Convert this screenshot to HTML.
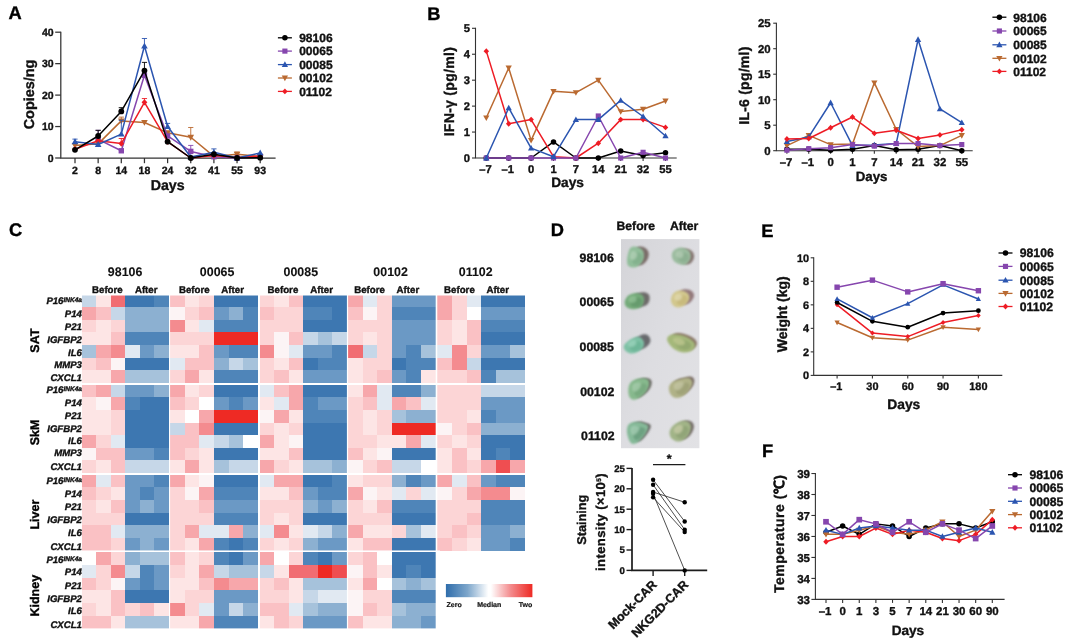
<!DOCTYPE html>
<html><head><meta charset="utf-8"><title>Figure</title>
<style>
html,body{margin:0;padding:0;background:#fff;}
body{width:1080px;height:643px;overflow:hidden;font-family:"Liberation Sans", sans-serif;}
svg{display:block;font-family:"Liberation Sans", sans-serif;filter:blur(0.5px);text-rendering:geometricPrecision;}
</style></head><body>
<svg width="1080" height="643" viewBox="0 0 1080 643">
<defs>
<linearGradient id="cbar" x1="0" x2="1" y1="0" y2="0">
<stop offset="0" stop-color="#2f6dab"/><stop offset="0.25" stop-color="#7da6cb"/><stop offset="0.49" stop-color="#ffffff"/><stop offset="0.52" stop-color="#ffffff"/><stop offset="0.75" stop-color="#f38a8c"/><stop offset="1" stop-color="#ee2a24"/>
</linearGradient>
<filter id="soft" x="-30%" y="-30%" width="160%" height="160%"><feGaussianBlur stdDeviation="0.85"/></filter>
<filter id="soft2" x="-30%" y="-30%" width="160%" height="160%"><feGaussianBlur stdDeviation="1.2"/></filter>
<linearGradient id="photobg" x1="0" x2="1" y1="0" y2="1">
<stop offset="0" stop-color="#d4d4d8"/><stop offset="0.5" stop-color="#dddde1"/><stop offset="1" stop-color="#e2e2e5"/>
</linearGradient>
</defs>
<rect width="1080" height="643" fill="#ffffff"/>

<text x="8.60" y="19.45" font-size="18.3" text-anchor="start" font-weight="bold" font-style="normal" fill="#000" stroke="#000" stroke-width="0.35">A</text>
<text x="427.20" y="19.85" font-size="18.3" text-anchor="start" font-weight="bold" font-style="normal" fill="#000" stroke="#000" stroke-width="0.35">B</text>
<text x="9.00" y="236.15" font-size="18.3" text-anchor="start" font-weight="bold" font-style="normal" fill="#000" stroke="#000" stroke-width="0.35">C</text>
<text x="550.70" y="236.05" font-size="18.3" text-anchor="start" font-weight="bold" font-style="normal" fill="#000" stroke="#000" stroke-width="0.35">D</text>
<text x="761.20" y="236.85" font-size="18.3" text-anchor="start" font-weight="bold" font-style="normal" fill="#000" stroke="#000" stroke-width="0.35">E</text>
<text x="762.00" y="456.75" font-size="18.3" text-anchor="start" font-weight="bold" font-style="normal" fill="#000" stroke="#000" stroke-width="0.35">F</text>
<path d="M60.80 31.70 V158.00 H275.60" fill="none" stroke="#333333" stroke-width="1.25"/>
<line x1="55.20" y1="158.00" x2="60.80" y2="158.00" stroke="#333333" stroke-width="1.25"/>
<text x="53.70" y="161.76" font-size="10.5" text-anchor="end" font-weight="bold" font-style="normal" fill="#111" stroke="#111" stroke-width="0.35">0</text>
<line x1="55.20" y1="126.55" x2="60.80" y2="126.55" stroke="#333333" stroke-width="1.25"/>
<text x="53.70" y="130.31" font-size="10.5" text-anchor="end" font-weight="bold" font-style="normal" fill="#111" stroke="#111" stroke-width="0.35">10</text>
<line x1="55.20" y1="95.10" x2="60.80" y2="95.10" stroke="#333333" stroke-width="1.25"/>
<text x="53.70" y="98.86" font-size="10.5" text-anchor="end" font-weight="bold" font-style="normal" fill="#111" stroke="#111" stroke-width="0.35">20</text>
<line x1="55.20" y1="63.65" x2="60.80" y2="63.65" stroke="#333333" stroke-width="1.25"/>
<text x="53.70" y="67.41" font-size="10.5" text-anchor="end" font-weight="bold" font-style="normal" fill="#111" stroke="#111" stroke-width="0.35">30</text>
<line x1="55.20" y1="32.20" x2="60.80" y2="32.20" stroke="#333333" stroke-width="1.25"/>
<text x="53.70" y="35.96" font-size="10.5" text-anchor="end" font-weight="bold" font-style="normal" fill="#111" stroke="#111" stroke-width="0.35">40</text>
<line x1="75.00" y1="158.00" x2="75.00" y2="163.20" stroke="#333333" stroke-width="1.25"/>
<text x="75.00" y="174.36" font-size="10.5" text-anchor="middle" font-weight="bold" font-style="normal" fill="#111" stroke="#111" stroke-width="0.35">2</text>
<line x1="98.15" y1="158.00" x2="98.15" y2="163.20" stroke="#333333" stroke-width="1.25"/>
<text x="98.15" y="174.36" font-size="10.5" text-anchor="middle" font-weight="bold" font-style="normal" fill="#111" stroke="#111" stroke-width="0.35">8</text>
<line x1="121.30" y1="158.00" x2="121.30" y2="163.20" stroke="#333333" stroke-width="1.25"/>
<text x="121.30" y="174.36" font-size="10.5" text-anchor="middle" font-weight="bold" font-style="normal" fill="#111" stroke="#111" stroke-width="0.35">14</text>
<line x1="144.45" y1="158.00" x2="144.45" y2="163.20" stroke="#333333" stroke-width="1.25"/>
<text x="144.45" y="174.36" font-size="10.5" text-anchor="middle" font-weight="bold" font-style="normal" fill="#111" stroke="#111" stroke-width="0.35">18</text>
<line x1="167.60" y1="158.00" x2="167.60" y2="163.20" stroke="#333333" stroke-width="1.25"/>
<text x="167.60" y="174.36" font-size="10.5" text-anchor="middle" font-weight="bold" font-style="normal" fill="#111" stroke="#111" stroke-width="0.35">24</text>
<line x1="190.75" y1="158.00" x2="190.75" y2="163.20" stroke="#333333" stroke-width="1.25"/>
<text x="190.75" y="174.36" font-size="10.5" text-anchor="middle" font-weight="bold" font-style="normal" fill="#111" stroke="#111" stroke-width="0.35">32</text>
<line x1="213.90" y1="158.00" x2="213.90" y2="163.20" stroke="#333333" stroke-width="1.25"/>
<text x="213.90" y="174.36" font-size="10.5" text-anchor="middle" font-weight="bold" font-style="normal" fill="#111" stroke="#111" stroke-width="0.35">41</text>
<line x1="237.05" y1="158.00" x2="237.05" y2="163.20" stroke="#333333" stroke-width="1.25"/>
<text x="237.05" y="174.36" font-size="10.5" text-anchor="middle" font-weight="bold" font-style="normal" fill="#111" stroke="#111" stroke-width="0.35">55</text>
<line x1="260.20" y1="158.00" x2="260.20" y2="163.20" stroke="#333333" stroke-width="1.25"/>
<text x="260.20" y="174.36" font-size="10.5" text-anchor="middle" font-weight="bold" font-style="normal" fill="#111" stroke="#111" stroke-width="0.35">93</text>
<text x="167.70" y="190.28" font-size="14.2" text-anchor="middle" font-weight="bold" font-style="normal" fill="#111" stroke="#111" stroke-width="0.35">Days</text>
<text x="29.00" y="99.66" font-size="14.4" text-anchor="middle" font-weight="bold" font-style="normal" fill="#111" stroke="#111" stroke-width="0.35" transform="rotate(-90 29.00 94.50)">Copies/ng</text>
<path d="M121.30 120.89 V117.12 M118.70 117.12 H123.90" stroke="#ba6a31" stroke-width="0.9" fill="none"/>
<path d="M190.75 137.24 V127.49 M188.15 127.49 H193.35" stroke="#ba6a31" stroke-width="0.9" fill="none"/>
<path d="M237.05 154.23 V152.02 M234.45 152.02 H239.65" stroke="#ba6a31" stroke-width="0.9" fill="none"/>
<path d="M75.00 145.42 L98.15 143.85 L121.30 120.89 L144.45 122.46 L167.60 132.84 L190.75 137.24 L213.90 156.43 L237.05 154.23 L260.20 156.43" fill="none" stroke="#ba6a31" stroke-width="1.5" stroke-linejoin="round"/>
<path d="M75.00 148.82 L78.30 142.92 L71.70 142.92Z" fill="#ba6a31"/>
<path d="M98.15 147.25 L101.45 141.35 L94.85 141.35Z" fill="#ba6a31"/>
<path d="M121.30 124.29 L124.60 118.39 L118.00 118.39Z" fill="#ba6a31"/>
<path d="M144.45 125.86 L147.75 119.96 L141.15 119.96Z" fill="#ba6a31"/>
<path d="M167.60 136.24 L170.90 130.34 L164.30 130.34Z" fill="#ba6a31"/>
<path d="M190.75 140.64 L194.05 134.74 L187.45 134.74Z" fill="#ba6a31"/>
<path d="M213.90 159.83 L217.20 153.93 L210.60 153.93Z" fill="#ba6a31"/>
<path d="M237.05 157.63 L240.35 151.73 L233.75 151.73Z" fill="#ba6a31"/>
<path d="M260.20 159.83 L263.50 153.93 L256.90 153.93Z" fill="#ba6a31"/>
<path d="M98.15 139.44 V130.32 M95.55 130.32 H100.75" stroke="#8646ae" stroke-width="0.9" fill="none"/>
<path d="M190.75 151.40 V145.42 M188.15 145.42 H193.35" stroke="#8646ae" stroke-width="0.9" fill="none"/>
<path d="M98.15 139.44 L121.30 150.77 L144.45 75.29 L167.60 135.99 L190.75 151.40 L213.90 156.74 L237.05 158.00 L260.20 156.43" fill="none" stroke="#8646ae" stroke-width="1.5" stroke-linejoin="round"/>
<rect x="95.45" y="136.74" width="5.40" height="5.40" fill="#8646ae"/>
<rect x="118.60" y="148.07" width="5.40" height="5.40" fill="#8646ae"/>
<rect x="141.75" y="72.59" width="5.40" height="5.40" fill="#8646ae"/>
<rect x="164.90" y="133.29" width="5.40" height="5.40" fill="#8646ae"/>
<rect x="188.05" y="148.70" width="5.40" height="5.40" fill="#8646ae"/>
<rect x="211.20" y="154.04" width="5.40" height="5.40" fill="#8646ae"/>
<rect x="234.35" y="155.30" width="5.40" height="5.40" fill="#8646ae"/>
<rect x="257.50" y="153.73" width="5.40" height="5.40" fill="#8646ae"/>
<path d="M121.30 143.53 V138.50 M118.70 138.50 H123.90" stroke="#ee1c25" stroke-width="0.9" fill="none"/>
<path d="M144.45 102.33 V98.56 M141.85 98.56 H147.05" stroke="#ee1c25" stroke-width="0.9" fill="none"/>
<path d="M75.00 149.19 L98.15 140.70 L121.30 143.53 L144.45 102.33 L167.60 141.65 L190.75 158.00 L213.90 155.48 L237.05 157.37 L260.20 156.11" fill="none" stroke="#ee1c25" stroke-width="1.5" stroke-linejoin="round"/>
<path d="M75.00 146.09 L77.90 149.19 L75.00 152.29 L72.10 149.19Z" fill="#ee1c25"/>
<path d="M98.15 137.60 L101.05 140.70 L98.15 143.80 L95.25 140.70Z" fill="#ee1c25"/>
<path d="M121.30 140.43 L124.20 143.53 L121.30 146.63 L118.40 143.53Z" fill="#ee1c25"/>
<path d="M144.45 99.23 L147.35 102.33 L144.45 105.43 L141.55 102.33Z" fill="#ee1c25"/>
<path d="M167.60 138.55 L170.50 141.65 L167.60 144.75 L164.70 141.65Z" fill="#ee1c25"/>
<path d="M190.75 154.90 L193.65 158.00 L190.75 161.10 L187.85 158.00Z" fill="#ee1c25"/>
<path d="M213.90 152.38 L216.80 155.48 L213.90 158.58 L211.00 155.48Z" fill="#ee1c25"/>
<path d="M237.05 154.27 L239.95 157.37 L237.05 160.47 L234.15 157.37Z" fill="#ee1c25"/>
<path d="M260.20 153.01 L263.10 156.11 L260.20 159.21 L257.30 156.11Z" fill="#ee1c25"/>
<path d="M75.00 141.65 V139.13 M72.40 139.13 H77.60" stroke="#2b55b0" stroke-width="0.9" fill="none"/>
<path d="M121.30 134.10 V120.26 M118.70 120.26 H123.90" stroke="#2b55b0" stroke-width="0.9" fill="none"/>
<path d="M144.45 46.04 V38.49 M141.85 38.49 H147.05" stroke="#2b55b0" stroke-width="0.9" fill="none"/>
<path d="M167.60 126.55 V123.41 M165.00 123.41 H170.20" stroke="#2b55b0" stroke-width="0.9" fill="none"/>
<path d="M213.90 152.34 V148.88 M211.30 148.88 H216.50" stroke="#2b55b0" stroke-width="0.9" fill="none"/>
<path d="M75.00 141.65 L98.15 144.48 L121.30 134.10 L144.45 46.04 L167.60 126.55 L190.75 157.06 L213.90 152.34 L237.05 158.00 L260.20 152.97" fill="none" stroke="#2b55b0" stroke-width="1.5" stroke-linejoin="round"/>
<path d="M75.00 138.25 L78.30 144.15 L71.70 144.15Z" fill="#2b55b0"/>
<path d="M98.15 141.08 L101.45 146.98 L94.85 146.98Z" fill="#2b55b0"/>
<path d="M121.30 130.70 L124.60 136.60 L118.00 136.60Z" fill="#2b55b0"/>
<path d="M144.45 42.64 L147.75 48.54 L141.15 48.54Z" fill="#2b55b0"/>
<path d="M167.60 123.15 L170.90 129.05 L164.30 129.05Z" fill="#2b55b0"/>
<path d="M190.75 153.66 L194.05 159.56 L187.45 159.56Z" fill="#2b55b0"/>
<path d="M213.90 148.94 L217.20 154.84 L210.60 154.84Z" fill="#2b55b0"/>
<path d="M237.05 154.60 L240.35 160.50 L233.75 160.50Z" fill="#2b55b0"/>
<path d="M260.20 149.57 L263.50 155.47 L256.90 155.47Z" fill="#2b55b0"/>
<path d="M98.15 135.99 V130.32 M95.55 130.32 H100.75" stroke="#000000" stroke-width="0.9" fill="none"/>
<path d="M121.30 111.45 V107.68 M118.70 107.68 H123.90" stroke="#000000" stroke-width="0.9" fill="none"/>
<path d="M144.45 70.57 V62.39 M141.85 62.39 H147.05" stroke="#000000" stroke-width="0.9" fill="none"/>
<path d="M75.00 149.82 L98.15 135.99 L121.30 111.45 L144.45 70.57 L167.60 141.65 L190.75 158.00 L213.90 154.23 L237.05 158.00 L260.20 157.69" fill="none" stroke="#000000" stroke-width="1.5" stroke-linejoin="round"/>
<circle cx="75.00" cy="149.82" r="2.90" fill="#000000"/>
<circle cx="98.15" cy="135.99" r="2.90" fill="#000000"/>
<circle cx="121.30" cy="111.45" r="2.90" fill="#000000"/>
<circle cx="144.45" cy="70.57" r="2.90" fill="#000000"/>
<circle cx="167.60" cy="141.65" r="2.90" fill="#000000"/>
<circle cx="190.75" cy="158.00" r="2.90" fill="#000000"/>
<circle cx="213.90" cy="154.23" r="2.90" fill="#000000"/>
<circle cx="237.05" cy="158.00" r="2.90" fill="#000000"/>
<circle cx="260.20" cy="157.69" r="2.90" fill="#000000"/>
<line x1="277.90" y1="37.80" x2="291.90" y2="37.80" stroke="#000000" stroke-width="1.3"/>
<circle cx="284.90" cy="37.80" r="2.75" fill="#000000"/>
<text x="299.20" y="42.10" font-size="12" text-anchor="start" font-weight="bold" font-style="normal" fill="#111" stroke="#111" stroke-width="0.35">98106</text>
<line x1="277.90" y1="51.10" x2="291.90" y2="51.10" stroke="#8646ae" stroke-width="1.3"/>
<rect x="282.33" y="48.54" width="5.13" height="5.13" fill="#8646ae"/>
<text x="299.20" y="55.40" font-size="12" text-anchor="start" font-weight="bold" font-style="normal" fill="#111" stroke="#111" stroke-width="0.35">00065</text>
<line x1="277.90" y1="64.60" x2="291.90" y2="64.60" stroke="#2b55b0" stroke-width="1.3"/>
<path d="M284.90 61.37 L288.03 66.97 L281.76 66.97Z" fill="#2b55b0"/>
<text x="299.20" y="68.90" font-size="12" text-anchor="start" font-weight="bold" font-style="normal" fill="#111" stroke="#111" stroke-width="0.35">00085</text>
<line x1="277.90" y1="78.00" x2="291.90" y2="78.00" stroke="#ba6a31" stroke-width="1.3"/>
<path d="M284.90 81.23 L288.03 75.62 L281.76 75.62Z" fill="#ba6a31"/>
<text x="299.20" y="82.30" font-size="12" text-anchor="start" font-weight="bold" font-style="normal" fill="#111" stroke="#111" stroke-width="0.35">00102</text>
<line x1="277.90" y1="91.40" x2="291.90" y2="91.40" stroke="#ee1c25" stroke-width="1.3"/>
<path d="M284.90 88.46 L287.65 91.40 L284.90 94.34 L282.14 91.40Z" fill="#ee1c25"/>
<text x="299.20" y="95.70" font-size="12" text-anchor="start" font-weight="bold" font-style="normal" fill="#111" stroke="#111" stroke-width="0.35">01102</text>
<path d="M475.50 27.80 V158.00 H676.70" fill="none" stroke="#333333" stroke-width="1.1"/>
<line x1="472.00" y1="158.00" x2="475.50" y2="158.00" stroke="#333333" stroke-width="1.1"/>
<text x="469.90" y="162.01" font-size="11.2" text-anchor="end" font-weight="bold" font-style="normal" fill="#111" stroke="#111" stroke-width="0.35">0</text>
<line x1="472.00" y1="132.06" x2="475.50" y2="132.06" stroke="#333333" stroke-width="1.1"/>
<text x="469.90" y="136.07" font-size="11.2" text-anchor="end" font-weight="bold" font-style="normal" fill="#111" stroke="#111" stroke-width="0.35">1</text>
<line x1="472.00" y1="106.12" x2="475.50" y2="106.12" stroke="#333333" stroke-width="1.1"/>
<text x="469.90" y="110.13" font-size="11.2" text-anchor="end" font-weight="bold" font-style="normal" fill="#111" stroke="#111" stroke-width="0.35">2</text>
<line x1="472.00" y1="80.18" x2="475.50" y2="80.18" stroke="#333333" stroke-width="1.1"/>
<text x="469.90" y="84.19" font-size="11.2" text-anchor="end" font-weight="bold" font-style="normal" fill="#111" stroke="#111" stroke-width="0.35">3</text>
<line x1="472.00" y1="54.24" x2="475.50" y2="54.24" stroke="#333333" stroke-width="1.1"/>
<text x="469.90" y="58.25" font-size="11.2" text-anchor="end" font-weight="bold" font-style="normal" fill="#111" stroke="#111" stroke-width="0.35">4</text>
<line x1="472.00" y1="28.30" x2="475.50" y2="28.30" stroke="#333333" stroke-width="1.1"/>
<text x="469.90" y="32.31" font-size="11.2" text-anchor="end" font-weight="bold" font-style="normal" fill="#111" stroke="#111" stroke-width="0.35">5</text>
<line x1="486.30" y1="158.00" x2="486.30" y2="161.00" stroke="#333333" stroke-width="1.1"/>
<text x="485.40" y="172.61" font-size="11.2" text-anchor="middle" font-weight="bold" font-style="normal" fill="#111" stroke="#111" stroke-width="0.35">–7</text>
<line x1="508.70" y1="158.00" x2="508.70" y2="161.00" stroke="#333333" stroke-width="1.1"/>
<text x="507.80" y="172.61" font-size="11.2" text-anchor="middle" font-weight="bold" font-style="normal" fill="#111" stroke="#111" stroke-width="0.35">–1</text>
<line x1="531.10" y1="158.00" x2="531.10" y2="161.00" stroke="#333333" stroke-width="1.1"/>
<text x="531.10" y="172.61" font-size="11.2" text-anchor="middle" font-weight="bold" font-style="normal" fill="#111" stroke="#111" stroke-width="0.35">0</text>
<line x1="553.50" y1="158.00" x2="553.50" y2="161.00" stroke="#333333" stroke-width="1.1"/>
<text x="553.50" y="172.61" font-size="11.2" text-anchor="middle" font-weight="bold" font-style="normal" fill="#111" stroke="#111" stroke-width="0.35">1</text>
<line x1="575.90" y1="158.00" x2="575.90" y2="161.00" stroke="#333333" stroke-width="1.1"/>
<text x="575.90" y="172.61" font-size="11.2" text-anchor="middle" font-weight="bold" font-style="normal" fill="#111" stroke="#111" stroke-width="0.35">7</text>
<line x1="598.30" y1="158.00" x2="598.30" y2="161.00" stroke="#333333" stroke-width="1.1"/>
<text x="598.30" y="172.61" font-size="11.2" text-anchor="middle" font-weight="bold" font-style="normal" fill="#111" stroke="#111" stroke-width="0.35">14</text>
<line x1="620.70" y1="158.00" x2="620.70" y2="161.00" stroke="#333333" stroke-width="1.1"/>
<text x="620.70" y="172.61" font-size="11.2" text-anchor="middle" font-weight="bold" font-style="normal" fill="#111" stroke="#111" stroke-width="0.35">21</text>
<line x1="643.10" y1="158.00" x2="643.10" y2="161.00" stroke="#333333" stroke-width="1.1"/>
<text x="643.10" y="172.61" font-size="11.2" text-anchor="middle" font-weight="bold" font-style="normal" fill="#111" stroke="#111" stroke-width="0.35">32</text>
<line x1="665.50" y1="158.00" x2="665.50" y2="161.00" stroke="#333333" stroke-width="1.1"/>
<text x="665.50" y="172.61" font-size="11.2" text-anchor="middle" font-weight="bold" font-style="normal" fill="#111" stroke="#111" stroke-width="0.35">55</text>
<text x="567.60" y="187.10" font-size="13.7" text-anchor="middle" font-weight="bold" font-style="normal" fill="#111" stroke="#111" stroke-width="0.35">Days</text>
<text x="449.40" y="96.65" font-size="14.1" text-anchor="middle" font-weight="bold" font-style="normal" fill="#111" stroke="#111" stroke-width="0.35" transform="rotate(-90 449.40 91.60)" letter-spacing="0.25">IFN-γ (pg/ml)</text>
<path d="M486.30 158.00 L508.70 158.00 L531.10 158.00 L553.50 141.92 L575.90 158.00 L598.30 158.00 L620.70 151.00 L643.10 155.41 L665.50 152.81" fill="none" stroke="#000000" stroke-width="1.5" stroke-linejoin="round"/>
<circle cx="486.30" cy="158.00" r="2.75" fill="#000000"/>
<circle cx="508.70" cy="158.00" r="2.75" fill="#000000"/>
<circle cx="531.10" cy="158.00" r="2.75" fill="#000000"/>
<circle cx="553.50" cy="141.92" r="2.75" fill="#000000"/>
<circle cx="575.90" cy="158.00" r="2.75" fill="#000000"/>
<circle cx="598.30" cy="158.00" r="2.75" fill="#000000"/>
<circle cx="620.70" cy="151.00" r="2.75" fill="#000000"/>
<circle cx="643.10" cy="155.41" r="2.75" fill="#000000"/>
<circle cx="665.50" cy="152.81" r="2.75" fill="#000000"/>
<path d="M486.30 117.79 L508.70 67.99 L531.10 140.36 L553.50 91.33 L575.90 92.63 L598.30 80.18 L620.70 111.57 L643.10 109.23 L665.50 100.93" fill="none" stroke="#ba6a31" stroke-width="1.5" stroke-linejoin="round"/>
<path d="M486.30 121.02 L489.44 115.42 L483.17 115.42Z" fill="#ba6a31"/>
<path d="M508.70 71.22 L511.83 65.61 L505.56 65.61Z" fill="#ba6a31"/>
<path d="M531.10 143.59 L534.24 137.99 L527.97 137.99Z" fill="#ba6a31"/>
<path d="M553.50 94.56 L556.63 88.96 L550.37 88.96Z" fill="#ba6a31"/>
<path d="M575.90 95.86 L579.03 90.26 L572.76 90.26Z" fill="#ba6a31"/>
<path d="M598.30 83.41 L601.43 77.80 L595.16 77.80Z" fill="#ba6a31"/>
<path d="M620.70 114.80 L623.84 109.19 L617.57 109.19Z" fill="#ba6a31"/>
<path d="M643.10 112.46 L646.24 106.86 L639.97 106.86Z" fill="#ba6a31"/>
<path d="M665.50 104.16 L668.63 98.56 L662.37 98.56Z" fill="#ba6a31"/>
<path d="M486.30 51.13 L508.70 123.76 L531.10 119.61 L553.50 156.70 L575.90 158.00 L598.30 143.21 L620.70 119.61 L643.10 119.61 L665.50 127.39" fill="none" stroke="#ee1c25" stroke-width="1.5" stroke-linejoin="round"/>
<path d="M486.30 48.18 L489.06 51.13 L486.30 54.07 L483.55 51.13Z" fill="#ee1c25"/>
<path d="M508.70 120.81 L511.45 123.76 L508.70 126.70 L505.94 123.76Z" fill="#ee1c25"/>
<path d="M531.10 116.66 L533.86 119.61 L531.10 122.55 L528.35 119.61Z" fill="#ee1c25"/>
<path d="M553.50 153.76 L556.25 156.70 L553.50 159.65 L550.75 156.70Z" fill="#ee1c25"/>
<path d="M575.90 155.06 L578.65 158.00 L575.90 160.94 L573.14 158.00Z" fill="#ee1c25"/>
<path d="M598.30 140.27 L601.05 143.21 L598.30 146.16 L595.54 143.21Z" fill="#ee1c25"/>
<path d="M620.70 116.66 L623.46 119.61 L620.70 122.55 L617.95 119.61Z" fill="#ee1c25"/>
<path d="M643.10 116.66 L645.86 119.61 L643.10 122.55 L640.35 119.61Z" fill="#ee1c25"/>
<path d="M665.50 124.45 L668.25 127.39 L665.50 130.34 L662.75 127.39Z" fill="#ee1c25"/>
<path d="M486.30 158.00 L508.70 158.00 L531.10 158.00 L553.50 158.00 L575.90 158.00 L598.30 115.98 L620.70 158.00 L643.10 152.29 L665.50 158.00" fill="none" stroke="#8646ae" stroke-width="1.5" stroke-linejoin="round"/>
<rect x="483.74" y="155.44" width="5.13" height="5.13" fill="#8646ae"/>
<rect x="506.13" y="155.44" width="5.13" height="5.13" fill="#8646ae"/>
<rect x="528.53" y="155.44" width="5.13" height="5.13" fill="#8646ae"/>
<rect x="550.93" y="155.44" width="5.13" height="5.13" fill="#8646ae"/>
<rect x="573.33" y="155.44" width="5.13" height="5.13" fill="#8646ae"/>
<rect x="595.73" y="113.41" width="5.13" height="5.13" fill="#8646ae"/>
<rect x="618.13" y="155.44" width="5.13" height="5.13" fill="#8646ae"/>
<rect x="640.53" y="149.73" width="5.13" height="5.13" fill="#8646ae"/>
<rect x="662.93" y="155.44" width="5.13" height="5.13" fill="#8646ae"/>
<path d="M486.30 158.00 L508.70 107.94 L531.10 148.14 L553.50 156.70 L575.90 119.61 L598.30 119.61 L620.70 100.41 L643.10 116.50 L665.50 135.95" fill="none" stroke="#2b55b0" stroke-width="1.5" stroke-linejoin="round"/>
<path d="M486.30 154.77 L489.44 160.38 L483.17 160.38Z" fill="#2b55b0"/>
<path d="M508.70 104.71 L511.83 110.31 L505.56 110.31Z" fill="#2b55b0"/>
<path d="M531.10 144.91 L534.24 150.52 L527.97 150.52Z" fill="#2b55b0"/>
<path d="M553.50 153.47 L556.63 159.08 L550.37 159.08Z" fill="#2b55b0"/>
<path d="M575.90 116.38 L579.03 121.98 L572.76 121.98Z" fill="#2b55b0"/>
<path d="M598.30 116.38 L601.43 121.98 L595.16 121.98Z" fill="#2b55b0"/>
<path d="M620.70 97.18 L623.84 102.79 L617.57 102.79Z" fill="#2b55b0"/>
<path d="M643.10 113.27 L646.24 118.87 L639.97 118.87Z" fill="#2b55b0"/>
<path d="M665.50 132.72 L668.63 138.33 L662.37 138.33Z" fill="#2b55b0"/>
<path d="M776.40 22.70 V150.70 H972.70" fill="none" stroke="#333333" stroke-width="1.1"/>
<line x1="773.20" y1="150.70" x2="776.40" y2="150.70" stroke="#333333" stroke-width="1.1"/>
<text x="770.60" y="154.78" font-size="11.4" text-anchor="end" font-weight="bold" font-style="normal" fill="#111" stroke="#111" stroke-width="0.35">0</text>
<line x1="773.20" y1="125.20" x2="776.40" y2="125.20" stroke="#333333" stroke-width="1.1"/>
<text x="770.60" y="129.28" font-size="11.4" text-anchor="end" font-weight="bold" font-style="normal" fill="#111" stroke="#111" stroke-width="0.35">5</text>
<line x1="773.20" y1="99.70" x2="776.40" y2="99.70" stroke="#333333" stroke-width="1.1"/>
<text x="770.60" y="103.78" font-size="11.4" text-anchor="end" font-weight="bold" font-style="normal" fill="#111" stroke="#111" stroke-width="0.35">10</text>
<line x1="773.20" y1="74.20" x2="776.40" y2="74.20" stroke="#333333" stroke-width="1.1"/>
<text x="770.60" y="78.28" font-size="11.4" text-anchor="end" font-weight="bold" font-style="normal" fill="#111" stroke="#111" stroke-width="0.35">15</text>
<line x1="773.20" y1="48.70" x2="776.40" y2="48.70" stroke="#333333" stroke-width="1.1"/>
<text x="770.60" y="52.78" font-size="11.4" text-anchor="end" font-weight="bold" font-style="normal" fill="#111" stroke="#111" stroke-width="0.35">20</text>
<line x1="773.20" y1="23.20" x2="776.40" y2="23.20" stroke="#333333" stroke-width="1.1"/>
<text x="770.60" y="27.28" font-size="11.4" text-anchor="end" font-weight="bold" font-style="normal" fill="#111" stroke="#111" stroke-width="0.35">25</text>
<line x1="786.90" y1="150.70" x2="786.90" y2="153.70" stroke="#333333" stroke-width="1.1"/>
<text x="786.00" y="166.08" font-size="11.4" text-anchor="middle" font-weight="bold" font-style="normal" fill="#111" stroke="#111" stroke-width="0.35">–7</text>
<line x1="808.76" y1="150.70" x2="808.76" y2="153.70" stroke="#333333" stroke-width="1.1"/>
<text x="807.86" y="166.08" font-size="11.4" text-anchor="middle" font-weight="bold" font-style="normal" fill="#111" stroke="#111" stroke-width="0.35">–1</text>
<line x1="830.62" y1="150.70" x2="830.62" y2="153.70" stroke="#333333" stroke-width="1.1"/>
<text x="830.62" y="166.08" font-size="11.4" text-anchor="middle" font-weight="bold" font-style="normal" fill="#111" stroke="#111" stroke-width="0.35">0</text>
<line x1="852.48" y1="150.70" x2="852.48" y2="153.70" stroke="#333333" stroke-width="1.1"/>
<text x="852.48" y="166.08" font-size="11.4" text-anchor="middle" font-weight="bold" font-style="normal" fill="#111" stroke="#111" stroke-width="0.35">1</text>
<line x1="874.34" y1="150.70" x2="874.34" y2="153.70" stroke="#333333" stroke-width="1.1"/>
<text x="874.34" y="166.08" font-size="11.4" text-anchor="middle" font-weight="bold" font-style="normal" fill="#111" stroke="#111" stroke-width="0.35">7</text>
<line x1="896.20" y1="150.70" x2="896.20" y2="153.70" stroke="#333333" stroke-width="1.1"/>
<text x="896.20" y="166.08" font-size="11.4" text-anchor="middle" font-weight="bold" font-style="normal" fill="#111" stroke="#111" stroke-width="0.35">14</text>
<line x1="918.06" y1="150.70" x2="918.06" y2="153.70" stroke="#333333" stroke-width="1.1"/>
<text x="918.06" y="166.08" font-size="11.4" text-anchor="middle" font-weight="bold" font-style="normal" fill="#111" stroke="#111" stroke-width="0.35">21</text>
<line x1="939.92" y1="150.70" x2="939.92" y2="153.70" stroke="#333333" stroke-width="1.1"/>
<text x="939.92" y="166.08" font-size="11.4" text-anchor="middle" font-weight="bold" font-style="normal" fill="#111" stroke="#111" stroke-width="0.35">32</text>
<line x1="961.78" y1="150.70" x2="961.78" y2="153.70" stroke="#333333" stroke-width="1.1"/>
<text x="961.78" y="166.08" font-size="11.4" text-anchor="middle" font-weight="bold" font-style="normal" fill="#111" stroke="#111" stroke-width="0.35">55</text>
<text x="871.60" y="181.16" font-size="13.3" text-anchor="middle" font-weight="bold" font-style="normal" fill="#111" stroke="#111" stroke-width="0.35">Days</text>
<text x="743.60" y="90.65" font-size="14.1" text-anchor="middle" font-weight="bold" font-style="normal" fill="#111" stroke="#111" stroke-width="0.35" transform="rotate(-90 743.60 85.60)" letter-spacing="0.2">IL-6 (pg/ml)</text>
<path d="M786.90 149.17 L808.76 149.17 L830.62 150.19 L852.48 149.17 L874.34 145.60 L896.20 149.68 L918.06 149.17 L939.92 145.60 L961.78 150.70" fill="none" stroke="#000000" stroke-width="1.5" stroke-linejoin="round"/>
<circle cx="786.90" cy="149.17" r="2.75" fill="#000000"/>
<circle cx="808.76" cy="149.17" r="2.75" fill="#000000"/>
<circle cx="830.62" cy="150.19" r="2.75" fill="#000000"/>
<circle cx="852.48" cy="149.17" r="2.75" fill="#000000"/>
<circle cx="874.34" cy="145.60" r="2.75" fill="#000000"/>
<circle cx="896.20" cy="149.68" r="2.75" fill="#000000"/>
<circle cx="918.06" cy="149.17" r="2.75" fill="#000000"/>
<circle cx="939.92" cy="145.60" r="2.75" fill="#000000"/>
<circle cx="961.78" cy="150.70" r="2.75" fill="#000000"/>
<path d="M786.90 145.60 L808.76 135.40 L830.62 144.58 L852.48 144.07 L874.34 82.87 L896.20 129.28 L918.06 146.62 L939.92 145.60 L961.78 135.40" fill="none" stroke="#ba6a31" stroke-width="1.5" stroke-linejoin="round"/>
<path d="M786.90 148.83 L790.03 143.22 L783.76 143.22Z" fill="#ba6a31"/>
<path d="M808.76 138.63 L811.89 133.02 L805.62 133.02Z" fill="#ba6a31"/>
<path d="M830.62 147.81 L833.75 142.20 L827.49 142.20Z" fill="#ba6a31"/>
<path d="M852.48 147.30 L855.62 141.69 L849.35 141.69Z" fill="#ba6a31"/>
<path d="M874.34 86.10 L877.47 80.49 L871.20 80.49Z" fill="#ba6a31"/>
<path d="M896.20 132.51 L899.33 126.91 L893.06 126.91Z" fill="#ba6a31"/>
<path d="M918.06 149.85 L921.19 144.24 L914.92 144.24Z" fill="#ba6a31"/>
<path d="M939.92 148.83 L943.05 143.22 L936.78 143.22Z" fill="#ba6a31"/>
<path d="M961.78 138.63 L964.91 133.02 L958.64 133.02Z" fill="#ba6a31"/>
<path d="M786.90 141.52 L808.76 136.93 L830.62 102.76 L852.48 145.60 L874.34 145.09 L896.20 143.56 L918.06 39.52 L939.92 108.88 L961.78 122.65" fill="none" stroke="#2b55b0" stroke-width="1.5" stroke-linejoin="round"/>
<path d="M786.90 138.29 L790.03 143.89 L783.76 143.89Z" fill="#2b55b0"/>
<path d="M808.76 133.70 L811.89 139.30 L805.62 139.30Z" fill="#2b55b0"/>
<path d="M830.62 99.53 L833.75 105.13 L827.49 105.13Z" fill="#2b55b0"/>
<path d="M852.48 142.37 L855.62 147.97 L849.35 147.97Z" fill="#2b55b0"/>
<path d="M874.34 141.86 L877.47 147.46 L871.20 147.46Z" fill="#2b55b0"/>
<path d="M896.20 140.33 L899.33 145.94 L893.06 145.94Z" fill="#2b55b0"/>
<path d="M918.06 36.29 L921.19 41.89 L914.92 41.89Z" fill="#2b55b0"/>
<path d="M939.92 105.65 L943.05 111.25 L936.78 111.25Z" fill="#2b55b0"/>
<path d="M961.78 119.42 L964.91 125.02 L958.64 125.02Z" fill="#2b55b0"/>
<path d="M786.90 138.97 L808.76 138.46 L830.62 127.75 L852.48 117.04 L874.34 133.36 L896.20 130.30 L918.06 138.46 L939.92 134.89 L961.78 129.79" fill="none" stroke="#ee1c25" stroke-width="1.5" stroke-linejoin="round"/>
<path d="M786.90 136.03 L789.65 138.97 L786.90 141.91 L784.14 138.97Z" fill="#ee1c25"/>
<path d="M808.76 135.51 L811.51 138.46 L808.76 141.40 L806.00 138.46Z" fill="#ee1c25"/>
<path d="M830.62 124.80 L833.38 127.75 L830.62 130.69 L827.87 127.75Z" fill="#ee1c25"/>
<path d="M852.48 114.09 L855.24 117.04 L852.48 119.98 L849.73 117.04Z" fill="#ee1c25"/>
<path d="M874.34 130.41 L877.09 133.36 L874.34 136.30 L871.58 133.36Z" fill="#ee1c25"/>
<path d="M896.20 127.35 L898.95 130.30 L896.20 133.24 L893.44 130.30Z" fill="#ee1c25"/>
<path d="M918.06 135.51 L920.81 138.46 L918.06 141.40 L915.30 138.46Z" fill="#ee1c25"/>
<path d="M939.92 131.94 L942.67 134.89 L939.92 137.83 L937.16 134.89Z" fill="#ee1c25"/>
<path d="M961.78 126.84 L964.53 129.79 L961.78 132.73 L959.02 129.79Z" fill="#ee1c25"/>
<path d="M786.90 150.19 L808.76 148.66 L830.62 147.64 L852.48 144.58 L874.34 146.11 L896.20 143.56 L918.06 143.56 L939.92 145.60 L961.78 144.58" fill="none" stroke="#8646ae" stroke-width="1.5" stroke-linejoin="round"/>
<rect x="784.33" y="147.62" width="5.13" height="5.13" fill="#8646ae"/>
<rect x="806.19" y="146.09" width="5.13" height="5.13" fill="#8646ae"/>
<rect x="828.05" y="145.07" width="5.13" height="5.13" fill="#8646ae"/>
<rect x="849.91" y="142.01" width="5.13" height="5.13" fill="#8646ae"/>
<rect x="871.77" y="143.54" width="5.13" height="5.13" fill="#8646ae"/>
<rect x="893.63" y="141.00" width="5.13" height="5.13" fill="#8646ae"/>
<rect x="915.49" y="141.00" width="5.13" height="5.13" fill="#8646ae"/>
<rect x="937.35" y="143.03" width="5.13" height="5.13" fill="#8646ae"/>
<rect x="959.21" y="142.01" width="5.13" height="5.13" fill="#8646ae"/>
<line x1="992.40" y1="17.20" x2="1006.40" y2="17.20" stroke="#000000" stroke-width="1.3"/>
<circle cx="999.40" cy="17.20" r="2.75" fill="#000000"/>
<text x="1013.30" y="21.50" font-size="12" text-anchor="start" font-weight="bold" font-style="normal" fill="#111" stroke="#111" stroke-width="0.35">98106</text>
<line x1="992.40" y1="31.00" x2="1006.40" y2="31.00" stroke="#8646ae" stroke-width="1.3"/>
<rect x="996.83" y="28.43" width="5.13" height="5.13" fill="#8646ae"/>
<text x="1013.30" y="35.30" font-size="12" text-anchor="start" font-weight="bold" font-style="normal" fill="#111" stroke="#111" stroke-width="0.35">00065</text>
<line x1="992.40" y1="44.80" x2="1006.40" y2="44.80" stroke="#2b55b0" stroke-width="1.3"/>
<path d="M999.40 41.57 L1002.53 47.17 L996.26 47.17Z" fill="#2b55b0"/>
<text x="1013.30" y="49.10" font-size="12" text-anchor="start" font-weight="bold" font-style="normal" fill="#111" stroke="#111" stroke-width="0.35">00085</text>
<line x1="992.40" y1="58.30" x2="1006.40" y2="58.30" stroke="#ba6a31" stroke-width="1.3"/>
<path d="M999.40 61.53 L1002.53 55.92 L996.26 55.92Z" fill="#ba6a31"/>
<text x="1013.30" y="62.60" font-size="12" text-anchor="start" font-weight="bold" font-style="normal" fill="#111" stroke="#111" stroke-width="0.35">00102</text>
<line x1="992.40" y1="71.40" x2="1006.40" y2="71.40" stroke="#ee1c25" stroke-width="1.3"/>
<path d="M999.40 68.46 L1002.15 71.40 L999.40 74.34 L996.64 71.40Z" fill="#ee1c25"/>
<text x="1013.30" y="75.70" font-size="12" text-anchor="start" font-weight="bold" font-style="normal" fill="#111" stroke="#111" stroke-width="0.35">01102</text>
<path d="M813.70 257.30 V375.40 H1002.30" fill="none" stroke="#333333" stroke-width="1.1"/>
<line x1="810.70" y1="375.40" x2="813.70" y2="375.40" stroke="#333333" stroke-width="1.1"/>
<text x="809.10" y="379.30" font-size="10.9" text-anchor="end" font-weight="bold" font-style="normal" fill="#111" stroke="#111" stroke-width="0.35">0</text>
<line x1="810.70" y1="351.88" x2="813.70" y2="351.88" stroke="#333333" stroke-width="1.1"/>
<text x="809.10" y="355.78" font-size="10.9" text-anchor="end" font-weight="bold" font-style="normal" fill="#111" stroke="#111" stroke-width="0.35">2</text>
<line x1="810.70" y1="328.36" x2="813.70" y2="328.36" stroke="#333333" stroke-width="1.1"/>
<text x="809.10" y="332.26" font-size="10.9" text-anchor="end" font-weight="bold" font-style="normal" fill="#111" stroke="#111" stroke-width="0.35">4</text>
<line x1="810.70" y1="304.84" x2="813.70" y2="304.84" stroke="#333333" stroke-width="1.1"/>
<text x="809.10" y="308.74" font-size="10.9" text-anchor="end" font-weight="bold" font-style="normal" fill="#111" stroke="#111" stroke-width="0.35">6</text>
<line x1="810.70" y1="281.32" x2="813.70" y2="281.32" stroke="#333333" stroke-width="1.1"/>
<text x="809.10" y="285.22" font-size="10.9" text-anchor="end" font-weight="bold" font-style="normal" fill="#111" stroke="#111" stroke-width="0.35">8</text>
<line x1="810.70" y1="257.80" x2="813.70" y2="257.80" stroke="#333333" stroke-width="1.1"/>
<text x="809.10" y="261.70" font-size="10.9" text-anchor="end" font-weight="bold" font-style="normal" fill="#111" stroke="#111" stroke-width="0.35">10</text>
<line x1="837.10" y1="375.40" x2="837.10" y2="378.60" stroke="#333333" stroke-width="1.1"/>
<text x="836.20" y="390.10" font-size="10.9" text-anchor="middle" font-weight="bold" font-style="normal" fill="#111" stroke="#111" stroke-width="0.35">–1</text>
<line x1="872.42" y1="375.40" x2="872.42" y2="378.60" stroke="#333333" stroke-width="1.1"/>
<text x="872.42" y="390.10" font-size="10.9" text-anchor="middle" font-weight="bold" font-style="normal" fill="#111" stroke="#111" stroke-width="0.35">30</text>
<line x1="907.74" y1="375.40" x2="907.74" y2="378.60" stroke="#333333" stroke-width="1.1"/>
<text x="907.74" y="390.10" font-size="10.9" text-anchor="middle" font-weight="bold" font-style="normal" fill="#111" stroke="#111" stroke-width="0.35">60</text>
<line x1="943.06" y1="375.40" x2="943.06" y2="378.60" stroke="#333333" stroke-width="1.1"/>
<text x="943.06" y="390.10" font-size="10.9" text-anchor="middle" font-weight="bold" font-style="normal" fill="#111" stroke="#111" stroke-width="0.35">90</text>
<line x1="978.38" y1="375.40" x2="978.38" y2="378.60" stroke="#333333" stroke-width="1.1"/>
<text x="978.38" y="390.10" font-size="10.9" text-anchor="middle" font-weight="bold" font-style="normal" fill="#111" stroke="#111" stroke-width="0.35">180</text>
<text x="903.80" y="409.24" font-size="13.8" text-anchor="middle" font-weight="bold" font-style="normal" fill="#111" stroke="#111" stroke-width="0.35">Days</text>
<text x="781.60" y="319.21" font-size="14.0" text-anchor="middle" font-weight="bold" font-style="normal" fill="#111" stroke="#111" stroke-width="0.35" transform="rotate(-90 781.60 314.20)">Weight (kg)</text>
<path d="M837.10 322.48 L872.42 337.77 L907.74 340.12 L943.06 327.18 L978.38 329.54" fill="none" stroke="#ba6a31" stroke-width="1.5" stroke-linejoin="round"/>
<path d="M837.10 325.20 L839.74 320.48 L834.46 320.48Z" fill="#ba6a31"/>
<path d="M872.42 340.49 L875.06 335.77 L869.78 335.77Z" fill="#ba6a31"/>
<path d="M907.74 342.84 L910.38 338.12 L905.10 338.12Z" fill="#ba6a31"/>
<path d="M943.06 329.90 L945.70 325.18 L940.42 325.18Z" fill="#ba6a31"/>
<path d="M978.38 332.26 L981.02 327.54 L975.74 327.54Z" fill="#ba6a31"/>
<path d="M837.10 304.84 L872.42 333.06 L907.74 336.59 L943.06 322.48 L978.38 315.42" fill="none" stroke="#ee1c25" stroke-width="1.5" stroke-linejoin="round"/>
<path d="M837.10 302.36 L839.42 304.84 L837.10 307.32 L834.78 304.84Z" fill="#ee1c25"/>
<path d="M872.42 330.58 L874.74 333.06 L872.42 335.54 L870.10 333.06Z" fill="#ee1c25"/>
<path d="M907.74 334.11 L910.06 336.59 L907.74 339.07 L905.42 336.59Z" fill="#ee1c25"/>
<path d="M943.06 320.00 L945.38 322.48 L943.06 324.96 L940.74 322.48Z" fill="#ee1c25"/>
<path d="M978.38 312.94 L980.70 315.42 L978.38 317.90 L976.06 315.42Z" fill="#ee1c25"/>
<path d="M837.10 302.49 L872.42 321.30 L907.74 327.18 L943.06 313.07 L978.38 310.72" fill="none" stroke="#000000" stroke-width="1.5" stroke-linejoin="round"/>
<circle cx="837.10" cy="302.49" r="2.38" fill="#000000"/>
<circle cx="872.42" cy="321.30" r="2.38" fill="#000000"/>
<circle cx="907.74" cy="327.18" r="2.38" fill="#000000"/>
<circle cx="943.06" cy="313.07" r="2.38" fill="#000000"/>
<circle cx="978.38" cy="310.72" r="2.38" fill="#000000"/>
<path d="M837.10 298.96 L872.42 317.78 L907.74 303.66 L943.06 284.85 L978.38 298.96" fill="none" stroke="#2b55b0" stroke-width="1.5" stroke-linejoin="round"/>
<path d="M837.10 296.24 L839.74 300.96 L834.46 300.96Z" fill="#2b55b0"/>
<path d="M872.42 315.06 L875.06 319.78 L869.78 319.78Z" fill="#2b55b0"/>
<path d="M907.74 300.94 L910.38 305.66 L905.10 305.66Z" fill="#2b55b0"/>
<path d="M943.06 282.13 L945.70 286.85 L940.42 286.85Z" fill="#2b55b0"/>
<path d="M978.38 296.24 L981.02 300.96 L975.74 300.96Z" fill="#2b55b0"/>
<path d="M837.10 287.20 L872.42 280.14 L907.74 291.90 L943.06 283.67 L978.38 290.73" fill="none" stroke="#8646ae" stroke-width="1.5" stroke-linejoin="round"/>
<rect x="834.40" y="284.50" width="5.40" height="5.40" fill="#8646ae"/>
<rect x="869.72" y="277.44" width="5.40" height="5.40" fill="#8646ae"/>
<rect x="905.04" y="289.20" width="5.40" height="5.40" fill="#8646ae"/>
<rect x="940.36" y="280.97" width="5.40" height="5.40" fill="#8646ae"/>
<rect x="975.68" y="288.03" width="5.40" height="5.40" fill="#8646ae"/>
<line x1="998.50" y1="253.00" x2="1012.50" y2="253.00" stroke="#000000" stroke-width="1.3"/>
<circle cx="1005.50" cy="253.00" r="2.75" fill="#000000"/>
<text x="1019.80" y="257.37" font-size="12.2" text-anchor="start" font-weight="bold" font-style="normal" fill="#111" stroke="#111" stroke-width="0.35">98106</text>
<line x1="998.50" y1="266.40" x2="1012.50" y2="266.40" stroke="#8646ae" stroke-width="1.3"/>
<rect x="1002.93" y="263.83" width="5.13" height="5.13" fill="#8646ae"/>
<text x="1019.80" y="270.77" font-size="12.2" text-anchor="start" font-weight="bold" font-style="normal" fill="#111" stroke="#111" stroke-width="0.35">00065</text>
<line x1="998.50" y1="280.20" x2="1012.50" y2="280.20" stroke="#2b55b0" stroke-width="1.3"/>
<path d="M1005.50 276.97 L1008.63 282.57 L1002.37 282.57Z" fill="#2b55b0"/>
<text x="1019.80" y="284.57" font-size="12.2" text-anchor="start" font-weight="bold" font-style="normal" fill="#111" stroke="#111" stroke-width="0.35">00085</text>
<line x1="998.50" y1="293.40" x2="1012.50" y2="293.40" stroke="#ba6a31" stroke-width="1.3"/>
<path d="M1005.50 296.63 L1008.63 291.02 L1002.37 291.02Z" fill="#ba6a31"/>
<text x="1019.80" y="297.77" font-size="12.2" text-anchor="start" font-weight="bold" font-style="normal" fill="#111" stroke="#111" stroke-width="0.35">00102</text>
<line x1="998.50" y1="306.50" x2="1012.50" y2="306.50" stroke="#ee1c25" stroke-width="1.3"/>
<path d="M1005.50 303.56 L1008.25 306.50 L1005.50 309.44 L1002.75 306.50Z" fill="#ee1c25"/>
<text x="1019.80" y="310.87" font-size="12.2" text-anchor="start" font-weight="bold" font-style="normal" fill="#111" stroke="#111" stroke-width="0.35">01102</text>
<path d="M815.40 473.02 V599.40 H1004.60" fill="none" stroke="#333333" stroke-width="1.1"/>
<line x1="811.40" y1="599.40" x2="815.40" y2="599.40" stroke="#333333" stroke-width="1.1"/>
<text x="810.00" y="603.52" font-size="11.5" text-anchor="end" font-weight="bold" font-style="normal" fill="#111" stroke="#111" stroke-width="0.35">33</text>
<line x1="811.40" y1="578.42" x2="815.40" y2="578.42" stroke="#333333" stroke-width="1.1"/>
<text x="810.00" y="582.54" font-size="11.5" text-anchor="end" font-weight="bold" font-style="normal" fill="#111" stroke="#111" stroke-width="0.35">34</text>
<line x1="811.40" y1="557.44" x2="815.40" y2="557.44" stroke="#333333" stroke-width="1.1"/>
<text x="810.00" y="561.56" font-size="11.5" text-anchor="end" font-weight="bold" font-style="normal" fill="#111" stroke="#111" stroke-width="0.35">35</text>
<line x1="811.40" y1="536.46" x2="815.40" y2="536.46" stroke="#333333" stroke-width="1.1"/>
<text x="810.00" y="540.58" font-size="11.5" text-anchor="end" font-weight="bold" font-style="normal" fill="#111" stroke="#111" stroke-width="0.35">36</text>
<line x1="811.40" y1="515.48" x2="815.40" y2="515.48" stroke="#333333" stroke-width="1.1"/>
<text x="810.00" y="519.60" font-size="11.5" text-anchor="end" font-weight="bold" font-style="normal" fill="#111" stroke="#111" stroke-width="0.35">37</text>
<line x1="811.40" y1="494.50" x2="815.40" y2="494.50" stroke="#333333" stroke-width="1.1"/>
<text x="810.00" y="498.62" font-size="11.5" text-anchor="end" font-weight="bold" font-style="normal" fill="#111" stroke="#111" stroke-width="0.35">38</text>
<line x1="811.40" y1="473.52" x2="815.40" y2="473.52" stroke="#333333" stroke-width="1.1"/>
<text x="810.00" y="477.64" font-size="11.5" text-anchor="end" font-weight="bold" font-style="normal" fill="#111" stroke="#111" stroke-width="0.35">39</text>
<line x1="826.00" y1="599.40" x2="826.00" y2="602.90" stroke="#333333" stroke-width="1.1"/>
<text x="825.10" y="614.62" font-size="11.5" text-anchor="middle" font-weight="bold" font-style="normal" fill="#111" stroke="#111" stroke-width="0.35">–1</text>
<line x1="842.63" y1="599.40" x2="842.63" y2="602.90" stroke="#333333" stroke-width="1.1"/>
<text x="842.63" y="614.62" font-size="11.5" text-anchor="middle" font-weight="bold" font-style="normal" fill="#111" stroke="#111" stroke-width="0.35">0</text>
<line x1="859.26" y1="599.40" x2="859.26" y2="602.90" stroke="#333333" stroke-width="1.1"/>
<text x="859.26" y="614.62" font-size="11.5" text-anchor="middle" font-weight="bold" font-style="normal" fill="#111" stroke="#111" stroke-width="0.35">1</text>
<line x1="875.89" y1="599.40" x2="875.89" y2="602.90" stroke="#333333" stroke-width="1.1"/>
<text x="875.89" y="614.62" font-size="11.5" text-anchor="middle" font-weight="bold" font-style="normal" fill="#111" stroke="#111" stroke-width="0.35">3</text>
<line x1="892.52" y1="599.40" x2="892.52" y2="602.90" stroke="#333333" stroke-width="1.1"/>
<text x="892.52" y="614.62" font-size="11.5" text-anchor="middle" font-weight="bold" font-style="normal" fill="#111" stroke="#111" stroke-width="0.35">5</text>
<line x1="909.15" y1="599.40" x2="909.15" y2="602.90" stroke="#333333" stroke-width="1.1"/>
<text x="909.15" y="614.62" font-size="11.5" text-anchor="middle" font-weight="bold" font-style="normal" fill="#111" stroke="#111" stroke-width="0.35">7</text>
<line x1="925.78" y1="599.40" x2="925.78" y2="602.90" stroke="#333333" stroke-width="1.1"/>
<text x="925.78" y="614.62" font-size="11.5" text-anchor="middle" font-weight="bold" font-style="normal" fill="#111" stroke="#111" stroke-width="0.35">14</text>
<line x1="942.41" y1="599.40" x2="942.41" y2="602.90" stroke="#333333" stroke-width="1.1"/>
<text x="942.41" y="614.62" font-size="11.5" text-anchor="middle" font-weight="bold" font-style="normal" fill="#111" stroke="#111" stroke-width="0.35">21</text>
<line x1="959.04" y1="599.40" x2="959.04" y2="602.90" stroke="#333333" stroke-width="1.1"/>
<text x="959.04" y="614.62" font-size="11.5" text-anchor="middle" font-weight="bold" font-style="normal" fill="#111" stroke="#111" stroke-width="0.35">30</text>
<line x1="975.67" y1="599.40" x2="975.67" y2="602.90" stroke="#333333" stroke-width="1.1"/>
<text x="975.67" y="614.62" font-size="11.5" text-anchor="middle" font-weight="bold" font-style="normal" fill="#111" stroke="#111" stroke-width="0.35">60</text>
<line x1="992.30" y1="599.40" x2="992.30" y2="602.90" stroke="#333333" stroke-width="1.1"/>
<text x="992.30" y="614.62" font-size="11.5" text-anchor="middle" font-weight="bold" font-style="normal" fill="#111" stroke="#111" stroke-width="0.35">90</text>
<text x="907.90" y="635.17" font-size="13.6" text-anchor="middle" font-weight="bold" font-style="normal" fill="#111" stroke="#111" stroke-width="0.35">Days</text>
<text x="779.20" y="538.81" font-size="14.0" text-anchor="middle" font-weight="bold" font-style="normal" fill="#111" stroke="#111" stroke-width="0.35" transform="rotate(-90 779.20 533.80)" letter-spacing="0.5">Temperature (℃)</text>
<path d="M826.00 532.26 L842.63 525.97 L859.26 534.36 L875.89 523.87 L892.52 525.97 L909.15 536.46 L925.78 528.07 L942.41 523.87 L959.04 523.87 L975.67 528.07 L992.30 521.77" fill="none" stroke="#000000" stroke-width="1.5" stroke-linejoin="round"/>
<circle cx="826.00" cy="532.26" r="2.75" fill="#000000"/>
<circle cx="842.63" cy="525.97" r="2.75" fill="#000000"/>
<circle cx="859.26" cy="534.36" r="2.75" fill="#000000"/>
<circle cx="875.89" cy="523.87" r="2.75" fill="#000000"/>
<circle cx="892.52" cy="525.97" r="2.75" fill="#000000"/>
<circle cx="909.15" cy="536.46" r="2.75" fill="#000000"/>
<circle cx="925.78" cy="528.07" r="2.75" fill="#000000"/>
<circle cx="942.41" cy="523.87" r="2.75" fill="#000000"/>
<circle cx="959.04" cy="523.87" r="2.75" fill="#000000"/>
<circle cx="975.67" cy="528.07" r="2.75" fill="#000000"/>
<circle cx="992.30" cy="521.77" r="2.75" fill="#000000"/>
<path d="M826.00 534.36 L842.63 534.36 L859.26 530.17 L875.89 525.97 L892.52 532.26 L909.15 534.36 L925.78 530.17 L942.41 521.77 L959.04 536.46 L975.67 530.17 L992.30 511.28" fill="none" stroke="#ba6a31" stroke-width="1.5" stroke-linejoin="round"/>
<path d="M826.00 537.59 L829.13 531.99 L822.87 531.99Z" fill="#ba6a31"/>
<path d="M842.63 537.59 L845.76 531.99 L839.50 531.99Z" fill="#ba6a31"/>
<path d="M859.26 533.40 L862.39 527.79 L856.12 527.79Z" fill="#ba6a31"/>
<path d="M875.89 529.20 L879.02 523.60 L872.75 523.60Z" fill="#ba6a31"/>
<path d="M892.52 535.49 L895.65 529.89 L889.38 529.89Z" fill="#ba6a31"/>
<path d="M909.15 537.59 L912.28 531.99 L906.01 531.99Z" fill="#ba6a31"/>
<path d="M925.78 533.40 L928.91 527.79 L922.64 527.79Z" fill="#ba6a31"/>
<path d="M942.41 525.00 L945.54 519.40 L939.27 519.40Z" fill="#ba6a31"/>
<path d="M959.04 539.69 L962.17 534.09 L955.90 534.09Z" fill="#ba6a31"/>
<path d="M975.67 533.40 L978.80 527.79 L972.53 527.79Z" fill="#ba6a31"/>
<path d="M992.30 514.51 L995.43 508.91 L989.16 508.91Z" fill="#ba6a31"/>
<path d="M826.00 541.70 L842.63 536.46 L859.26 536.46 L875.89 528.07 L892.52 534.36 L909.15 530.17 L925.78 532.26 L942.41 538.56 L959.04 540.66 L975.67 534.36 L992.30 519.68" fill="none" stroke="#ee1c25" stroke-width="1.5" stroke-linejoin="round"/>
<path d="M826.00 538.76 L828.75 541.70 L826.00 544.65 L823.25 541.70Z" fill="#ee1c25"/>
<path d="M842.63 533.51 L845.38 536.46 L842.63 539.41 L839.88 536.46Z" fill="#ee1c25"/>
<path d="M859.26 533.51 L862.01 536.46 L859.26 539.41 L856.50 536.46Z" fill="#ee1c25"/>
<path d="M875.89 525.12 L878.64 528.07 L875.89 531.01 L873.13 528.07Z" fill="#ee1c25"/>
<path d="M892.52 531.42 L895.27 534.36 L892.52 537.31 L889.76 534.36Z" fill="#ee1c25"/>
<path d="M909.15 527.22 L911.90 530.17 L909.15 533.11 L906.39 530.17Z" fill="#ee1c25"/>
<path d="M925.78 529.32 L928.53 532.26 L925.78 535.21 L923.02 532.26Z" fill="#ee1c25"/>
<path d="M942.41 535.61 L945.16 538.56 L942.41 541.50 L939.65 538.56Z" fill="#ee1c25"/>
<path d="M959.04 537.71 L961.79 540.66 L959.04 543.60 L956.28 540.66Z" fill="#ee1c25"/>
<path d="M975.67 531.42 L978.42 534.36 L975.67 537.31 L972.91 534.36Z" fill="#ee1c25"/>
<path d="M992.30 516.73 L995.05 519.68 L992.30 522.62 L989.54 519.68Z" fill="#ee1c25"/>
<path d="M826.00 530.17 L842.63 534.36 L859.26 528.07 L875.89 525.97 L892.52 528.07 L909.15 530.17 L925.78 530.17 L942.41 536.46 L959.04 532.26 L975.67 528.07 L992.30 532.26" fill="none" stroke="#2b55b0" stroke-width="1.5" stroke-linejoin="round"/>
<path d="M826.00 526.94 L829.13 532.54 L822.87 532.54Z" fill="#2b55b0"/>
<path d="M842.63 531.13 L845.76 536.74 L839.50 536.74Z" fill="#2b55b0"/>
<path d="M859.26 524.84 L862.39 530.44 L856.12 530.44Z" fill="#2b55b0"/>
<path d="M875.89 522.74 L879.02 528.35 L872.75 528.35Z" fill="#2b55b0"/>
<path d="M892.52 524.84 L895.65 530.44 L889.38 530.44Z" fill="#2b55b0"/>
<path d="M909.15 526.94 L912.28 532.54 L906.01 532.54Z" fill="#2b55b0"/>
<path d="M925.78 526.94 L928.91 532.54 L922.64 532.54Z" fill="#2b55b0"/>
<path d="M942.41 533.23 L945.54 538.84 L939.27 538.84Z" fill="#2b55b0"/>
<path d="M959.04 529.03 L962.17 534.64 L955.90 534.64Z" fill="#2b55b0"/>
<path d="M975.67 524.84 L978.80 530.44 L972.53 530.44Z" fill="#2b55b0"/>
<path d="M992.30 529.03 L995.43 534.64 L989.16 534.64Z" fill="#2b55b0"/>
<path d="M826.00 521.77 L842.63 534.36 L859.26 519.68 L875.89 523.87 L892.52 532.26 L909.15 521.77 L925.78 532.26 L942.41 523.87 L959.04 530.17 L975.67 538.56 L992.30 525.97" fill="none" stroke="#8646ae" stroke-width="1.5" stroke-linejoin="round"/>
<rect x="823.16" y="518.94" width="5.67" height="5.67" fill="#8646ae"/>
<rect x="839.79" y="531.53" width="5.67" height="5.67" fill="#8646ae"/>
<rect x="856.42" y="516.84" width="5.67" height="5.67" fill="#8646ae"/>
<rect x="873.05" y="521.04" width="5.67" height="5.67" fill="#8646ae"/>
<rect x="889.68" y="529.43" width="5.67" height="5.67" fill="#8646ae"/>
<rect x="906.31" y="518.94" width="5.67" height="5.67" fill="#8646ae"/>
<rect x="922.94" y="529.43" width="5.67" height="5.67" fill="#8646ae"/>
<rect x="939.57" y="521.04" width="5.67" height="5.67" fill="#8646ae"/>
<rect x="956.20" y="527.33" width="5.67" height="5.67" fill="#8646ae"/>
<rect x="972.83" y="535.72" width="5.67" height="5.67" fill="#8646ae"/>
<rect x="989.46" y="523.13" width="5.67" height="5.67" fill="#8646ae"/>
<line x1="1008.00" y1="474.70" x2="1022.00" y2="474.70" stroke="#000000" stroke-width="1.3"/>
<circle cx="1015.00" cy="474.70" r="2.75" fill="#000000"/>
<text x="1029.50" y="479.07" font-size="12.2" text-anchor="start" font-weight="bold" font-style="normal" fill="#111" stroke="#111" stroke-width="0.35">98106</text>
<line x1="1008.00" y1="488.00" x2="1022.00" y2="488.00" stroke="#8646ae" stroke-width="1.3"/>
<rect x="1012.43" y="485.44" width="5.13" height="5.13" fill="#8646ae"/>
<text x="1029.50" y="492.37" font-size="12.2" text-anchor="start" font-weight="bold" font-style="normal" fill="#111" stroke="#111" stroke-width="0.35">00065</text>
<line x1="1008.00" y1="501.30" x2="1022.00" y2="501.30" stroke="#2b55b0" stroke-width="1.3"/>
<path d="M1015.00 498.07 L1018.13 503.68 L1011.87 503.68Z" fill="#2b55b0"/>
<text x="1029.50" y="505.67" font-size="12.2" text-anchor="start" font-weight="bold" font-style="normal" fill="#111" stroke="#111" stroke-width="0.35">00085</text>
<line x1="1008.00" y1="514.60" x2="1022.00" y2="514.60" stroke="#ba6a31" stroke-width="1.3"/>
<path d="M1015.00 517.83 L1018.13 512.23 L1011.87 512.23Z" fill="#ba6a31"/>
<text x="1029.50" y="518.97" font-size="12.2" text-anchor="start" font-weight="bold" font-style="normal" fill="#111" stroke="#111" stroke-width="0.35">00102</text>
<line x1="1008.00" y1="527.80" x2="1022.00" y2="527.80" stroke="#ee1c25" stroke-width="1.3"/>
<path d="M1015.00 524.85 L1017.75 527.80 L1015.00 530.75 L1012.25 527.80Z" fill="#ee1c25"/>
<text x="1029.50" y="532.17" font-size="12.2" text-anchor="start" font-weight="bold" font-style="normal" fill="#111" stroke="#111" stroke-width="0.35">01102</text>
<g shape-rendering="crispEdges">
<rect x="81.90" y="294.10" width="14.82" height="13.00" fill="#c6d7e8"/>
<rect x="96.42" y="294.10" width="14.82" height="13.00" fill="#fde5e5"/>
<rect x="110.93" y="294.10" width="14.82" height="13.00" fill="#f16d72"/>
<rect x="125.45" y="294.10" width="14.82" height="13.00" fill="#3d77b1"/>
<rect x="139.97" y="294.10" width="14.82" height="13.00" fill="#3d77b1"/>
<rect x="154.48" y="294.10" width="14.82" height="13.00" fill="#4f85b9"/>
<rect x="81.90" y="306.80" width="14.82" height="13.00" fill="#f7a7ab"/>
<rect x="96.42" y="306.80" width="14.82" height="13.00" fill="#fac1c4"/>
<rect x="110.93" y="306.80" width="14.82" height="13.00" fill="#c6d7e8"/>
<rect x="125.45" y="306.80" width="14.82" height="13.00" fill="#8cb0d1"/>
<rect x="139.97" y="306.80" width="14.82" height="13.00" fill="#8cb0d1"/>
<rect x="154.48" y="306.80" width="14.82" height="13.00" fill="#8cb0d1"/>
<rect x="81.90" y="319.50" width="14.82" height="13.00" fill="#fcd5d6"/>
<rect x="96.42" y="319.50" width="14.82" height="13.00" fill="#fde5e5"/>
<rect x="110.93" y="319.50" width="14.82" height="13.00" fill="#fcd5d6"/>
<rect x="125.45" y="319.50" width="14.82" height="13.00" fill="#8cb0d1"/>
<rect x="139.97" y="319.50" width="14.82" height="13.00" fill="#8cb0d1"/>
<rect x="154.48" y="319.50" width="14.82" height="13.00" fill="#8cb0d1"/>
<rect x="81.90" y="332.20" width="14.82" height="13.00" fill="#fde5e5"/>
<rect x="96.42" y="332.20" width="14.82" height="13.00" fill="#fde5e5"/>
<rect x="110.93" y="332.20" width="14.82" height="13.00" fill="#fac1c4"/>
<rect x="125.45" y="332.20" width="14.82" height="13.00" fill="#4f85b9"/>
<rect x="139.97" y="332.20" width="14.82" height="13.00" fill="#4f85b9"/>
<rect x="154.48" y="332.20" width="14.82" height="13.00" fill="#4f85b9"/>
<rect x="81.90" y="344.90" width="14.82" height="13.00" fill="#a6c2db"/>
<rect x="96.42" y="344.90" width="14.82" height="13.00" fill="#f7a7ab"/>
<rect x="110.93" y="344.90" width="14.82" height="13.00" fill="#f48b8f"/>
<rect x="125.45" y="344.90" width="14.82" height="13.00" fill="#e1e9f2"/>
<rect x="139.97" y="344.90" width="14.82" height="13.00" fill="#6b99c5"/>
<rect x="154.48" y="344.90" width="14.82" height="13.00" fill="#8cb0d1"/>
<rect x="81.90" y="357.60" width="14.82" height="13.00" fill="#fcd5d6"/>
<rect x="96.42" y="357.60" width="14.82" height="13.00" fill="#fac1c4"/>
<rect x="110.93" y="357.60" width="14.82" height="13.00" fill="#fcf4f5"/>
<rect x="125.45" y="357.60" width="14.82" height="13.00" fill="#3d77b1"/>
<rect x="139.97" y="357.60" width="14.82" height="13.00" fill="#3d77b1"/>
<rect x="154.48" y="357.60" width="14.82" height="13.00" fill="#3d77b1"/>
<rect x="81.90" y="370.30" width="14.82" height="13.00" fill="#fde5e5"/>
<rect x="96.42" y="370.30" width="14.82" height="13.00" fill="#fde5e5"/>
<rect x="110.93" y="370.30" width="14.82" height="13.00" fill="#f7a7ab"/>
<rect x="125.45" y="370.30" width="14.82" height="13.00" fill="#a6c2db"/>
<rect x="139.97" y="370.30" width="14.82" height="13.00" fill="#a6c2db"/>
<rect x="154.48" y="370.30" width="14.82" height="13.00" fill="#a6c2db"/>
<rect x="170.20" y="294.10" width="14.94" height="13.00" fill="#fac1c4"/>
<rect x="184.84" y="294.10" width="14.94" height="13.00" fill="#fde5e5"/>
<rect x="199.48" y="294.10" width="14.94" height="13.00" fill="#fcd5d6"/>
<rect x="214.12" y="294.10" width="14.94" height="13.00" fill="#3d77b1"/>
<rect x="228.77" y="294.10" width="14.94" height="13.00" fill="#3d77b1"/>
<rect x="243.41" y="294.10" width="14.94" height="13.00" fill="#3d77b1"/>
<rect x="170.20" y="306.80" width="14.94" height="13.00" fill="#fcf4f5"/>
<rect x="184.84" y="306.80" width="14.94" height="13.00" fill="#fcd5d6"/>
<rect x="199.48" y="306.80" width="14.94" height="13.00" fill="#fac1c4"/>
<rect x="214.12" y="306.80" width="14.94" height="13.00" fill="#6b99c5"/>
<rect x="228.77" y="306.80" width="14.94" height="13.00" fill="#8cb0d1"/>
<rect x="243.41" y="306.80" width="14.94" height="13.00" fill="#4f85b9"/>
<rect x="170.20" y="319.50" width="14.94" height="13.00" fill="#f48b8f"/>
<rect x="184.84" y="319.50" width="14.94" height="13.00" fill="#fde5e5"/>
<rect x="199.48" y="319.50" width="14.94" height="13.00" fill="#e1e9f2"/>
<rect x="214.12" y="319.50" width="14.94" height="13.00" fill="#4f85b9"/>
<rect x="228.77" y="319.50" width="14.94" height="13.00" fill="#4f85b9"/>
<rect x="243.41" y="319.50" width="14.94" height="13.00" fill="#4f85b9"/>
<rect x="170.20" y="332.20" width="14.94" height="13.00" fill="#fcd5d6"/>
<rect x="184.84" y="332.20" width="14.94" height="13.00" fill="#fcd5d6"/>
<rect x="199.48" y="332.20" width="14.94" height="13.00" fill="#fcd5d6"/>
<rect x="214.12" y="332.20" width="14.94" height="13.00" fill="#ee2a24"/>
<rect x="228.77" y="332.20" width="14.94" height="13.00" fill="#ee2a24"/>
<rect x="243.41" y="332.20" width="14.94" height="13.00" fill="#ee2a24"/>
<rect x="170.20" y="344.90" width="14.94" height="13.00" fill="#fde5e5"/>
<rect x="184.84" y="344.90" width="14.94" height="13.00" fill="#fde5e5"/>
<rect x="199.48" y="344.90" width="14.94" height="13.00" fill="#fac1c4"/>
<rect x="214.12" y="344.90" width="14.94" height="13.00" fill="#6b99c5"/>
<rect x="228.77" y="344.90" width="14.94" height="13.00" fill="#4f85b9"/>
<rect x="243.41" y="344.90" width="14.94" height="13.00" fill="#4f85b9"/>
<rect x="170.20" y="357.60" width="14.94" height="13.00" fill="#e1e9f2"/>
<rect x="184.84" y="357.60" width="14.94" height="13.00" fill="#fac1c4"/>
<rect x="199.48" y="357.60" width="14.94" height="13.00" fill="#fac1c4"/>
<rect x="214.12" y="357.60" width="14.94" height="13.00" fill="#8cb0d1"/>
<rect x="228.77" y="357.60" width="14.94" height="13.00" fill="#c6d7e8"/>
<rect x="243.41" y="357.60" width="14.94" height="13.00" fill="#a6c2db"/>
<rect x="170.20" y="370.30" width="14.94" height="13.00" fill="#fcd5d6"/>
<rect x="184.84" y="370.30" width="14.94" height="13.00" fill="#f7a7ab"/>
<rect x="199.48" y="370.30" width="14.94" height="13.00" fill="#fde5e5"/>
<rect x="214.12" y="370.30" width="14.94" height="13.00" fill="#4f85b9"/>
<rect x="228.77" y="370.30" width="14.94" height="13.00" fill="#4f85b9"/>
<rect x="243.41" y="370.30" width="14.94" height="13.00" fill="#4f85b9"/>
<rect x="259.60" y="294.10" width="14.83" height="13.00" fill="#fcd5d6"/>
<rect x="274.13" y="294.10" width="14.83" height="13.00" fill="#fde5e5"/>
<rect x="288.67" y="294.10" width="14.83" height="13.00" fill="#fac1c4"/>
<rect x="303.20" y="294.10" width="14.83" height="13.00" fill="#3d77b1"/>
<rect x="317.73" y="294.10" width="14.83" height="13.00" fill="#3d77b1"/>
<rect x="332.27" y="294.10" width="14.83" height="13.00" fill="#3d77b1"/>
<rect x="259.60" y="306.80" width="14.83" height="13.00" fill="#fac1c4"/>
<rect x="274.13" y="306.80" width="14.83" height="13.00" fill="#fcd5d6"/>
<rect x="288.67" y="306.80" width="14.83" height="13.00" fill="#fcd5d6"/>
<rect x="303.20" y="306.80" width="14.83" height="13.00" fill="#4f85b9"/>
<rect x="317.73" y="306.80" width="14.83" height="13.00" fill="#4f85b9"/>
<rect x="332.27" y="306.80" width="14.83" height="13.00" fill="#3d77b1"/>
<rect x="259.60" y="319.50" width="14.83" height="13.00" fill="#fcd5d6"/>
<rect x="274.13" y="319.50" width="14.83" height="13.00" fill="#fcd5d6"/>
<rect x="288.67" y="319.50" width="14.83" height="13.00" fill="#fcd5d6"/>
<rect x="303.20" y="319.50" width="14.83" height="13.00" fill="#3d77b1"/>
<rect x="317.73" y="319.50" width="14.83" height="13.00" fill="#3d77b1"/>
<rect x="332.27" y="319.50" width="14.83" height="13.00" fill="#3d77b1"/>
<rect x="259.60" y="332.20" width="14.83" height="13.00" fill="#fcd5d6"/>
<rect x="274.13" y="332.20" width="14.83" height="13.00" fill="#fcf4f5"/>
<rect x="288.67" y="332.20" width="14.83" height="13.00" fill="#fac1c4"/>
<rect x="303.20" y="332.20" width="14.83" height="13.00" fill="#c6d7e8"/>
<rect x="317.73" y="332.20" width="14.83" height="13.00" fill="#a6c2db"/>
<rect x="332.27" y="332.20" width="14.83" height="13.00" fill="#c6d7e8"/>
<rect x="259.60" y="344.90" width="14.83" height="13.00" fill="#f48b8f"/>
<rect x="274.13" y="344.90" width="14.83" height="13.00" fill="#fcf4f5"/>
<rect x="288.67" y="344.90" width="14.83" height="13.00" fill="#e1e9f2"/>
<rect x="303.20" y="344.90" width="14.83" height="13.00" fill="#6b99c5"/>
<rect x="317.73" y="344.90" width="14.83" height="13.00" fill="#6b99c5"/>
<rect x="332.27" y="344.90" width="14.83" height="13.00" fill="#4f85b9"/>
<rect x="259.60" y="357.60" width="14.83" height="13.00" fill="#fcd5d6"/>
<rect x="274.13" y="357.60" width="14.83" height="13.00" fill="#fde5e5"/>
<rect x="288.67" y="357.60" width="14.83" height="13.00" fill="#fac1c4"/>
<rect x="303.20" y="357.60" width="14.83" height="13.00" fill="#3d77b1"/>
<rect x="317.73" y="357.60" width="14.83" height="13.00" fill="#4f85b9"/>
<rect x="332.27" y="357.60" width="14.83" height="13.00" fill="#4f85b9"/>
<rect x="259.60" y="370.30" width="14.83" height="13.00" fill="#fcd5d6"/>
<rect x="274.13" y="370.30" width="14.83" height="13.00" fill="#fac1c4"/>
<rect x="288.67" y="370.30" width="14.83" height="13.00" fill="#fde5e5"/>
<rect x="303.20" y="370.30" width="14.83" height="13.00" fill="#6b99c5"/>
<rect x="317.73" y="370.30" width="14.83" height="13.00" fill="#6b99c5"/>
<rect x="332.27" y="370.30" width="14.83" height="13.00" fill="#6b99c5"/>
<rect x="348.20" y="294.10" width="14.86" height="13.00" fill="#f7a7ab"/>
<rect x="362.76" y="294.10" width="14.86" height="13.00" fill="#e1e9f2"/>
<rect x="377.32" y="294.10" width="14.86" height="13.00" fill="#fcd5d6"/>
<rect x="391.88" y="294.10" width="14.86" height="13.00" fill="#6b99c5"/>
<rect x="406.43" y="294.10" width="14.86" height="13.00" fill="#6b99c5"/>
<rect x="420.99" y="294.10" width="14.86" height="13.00" fill="#6b99c5"/>
<rect x="348.20" y="306.80" width="14.86" height="13.00" fill="#fac1c4"/>
<rect x="362.76" y="306.80" width="14.86" height="13.00" fill="#fcf4f5"/>
<rect x="377.32" y="306.80" width="14.86" height="13.00" fill="#fcd5d6"/>
<rect x="391.88" y="306.80" width="14.86" height="13.00" fill="#4f85b9"/>
<rect x="406.43" y="306.80" width="14.86" height="13.00" fill="#4f85b9"/>
<rect x="420.99" y="306.80" width="14.86" height="13.00" fill="#4f85b9"/>
<rect x="348.20" y="319.50" width="14.86" height="13.00" fill="#fcd5d6"/>
<rect x="362.76" y="319.50" width="14.86" height="13.00" fill="#fcd5d6"/>
<rect x="377.32" y="319.50" width="14.86" height="13.00" fill="#fcd5d6"/>
<rect x="391.88" y="319.50" width="14.86" height="13.00" fill="#6b99c5"/>
<rect x="406.43" y="319.50" width="14.86" height="13.00" fill="#6b99c5"/>
<rect x="420.99" y="319.50" width="14.86" height="13.00" fill="#6b99c5"/>
<rect x="348.20" y="332.20" width="14.86" height="13.00" fill="#fcd5d6"/>
<rect x="362.76" y="332.20" width="14.86" height="13.00" fill="#fde5e5"/>
<rect x="377.32" y="332.20" width="14.86" height="13.00" fill="#fcd5d6"/>
<rect x="391.88" y="332.20" width="14.86" height="13.00" fill="#6b99c5"/>
<rect x="406.43" y="332.20" width="14.86" height="13.00" fill="#6b99c5"/>
<rect x="420.99" y="332.20" width="14.86" height="13.00" fill="#6b99c5"/>
<rect x="348.20" y="344.90" width="14.86" height="13.00" fill="#f16d72"/>
<rect x="362.76" y="344.90" width="14.86" height="13.00" fill="#c6d7e8"/>
<rect x="377.32" y="344.90" width="14.86" height="13.00" fill="#fcd5d6"/>
<rect x="391.88" y="344.90" width="14.86" height="13.00" fill="#6b99c5"/>
<rect x="406.43" y="344.90" width="14.86" height="13.00" fill="#4f85b9"/>
<rect x="420.99" y="344.90" width="14.86" height="13.00" fill="#a6c2db"/>
<rect x="348.20" y="357.60" width="14.86" height="13.00" fill="#fde5e5"/>
<rect x="362.76" y="357.60" width="14.86" height="13.00" fill="#fcd5d6"/>
<rect x="377.32" y="357.60" width="14.86" height="13.00" fill="#fcd5d6"/>
<rect x="391.88" y="357.60" width="14.86" height="13.00" fill="#3d77b1"/>
<rect x="406.43" y="357.60" width="14.86" height="13.00" fill="#4f85b9"/>
<rect x="420.99" y="357.60" width="14.86" height="13.00" fill="#4f85b9"/>
<rect x="348.20" y="370.30" width="14.86" height="13.00" fill="#fde5e5"/>
<rect x="362.76" y="370.30" width="14.86" height="13.00" fill="#fcd5d6"/>
<rect x="377.32" y="370.30" width="14.86" height="13.00" fill="#fac1c4"/>
<rect x="391.88" y="370.30" width="14.86" height="13.00" fill="#6b99c5"/>
<rect x="406.43" y="370.30" width="14.86" height="13.00" fill="#4f85b9"/>
<rect x="420.99" y="370.30" width="14.86" height="13.00" fill="#fde5e5"/>
<rect x="437.40" y="294.10" width="14.92" height="13.00" fill="#f7a7ab"/>
<rect x="452.02" y="294.10" width="14.92" height="13.00" fill="#fcd5d6"/>
<rect x="466.63" y="294.10" width="14.92" height="13.00" fill="#e1e9f2"/>
<rect x="481.25" y="294.10" width="14.92" height="13.00" fill="#3d77b1"/>
<rect x="495.87" y="294.10" width="14.92" height="13.00" fill="#3d77b1"/>
<rect x="510.48" y="294.10" width="14.92" height="13.00" fill="#3d77b1"/>
<rect x="437.40" y="306.80" width="14.92" height="13.00" fill="#f7a7ab"/>
<rect x="452.02" y="306.80" width="14.92" height="13.00" fill="#fcd5d6"/>
<rect x="466.63" y="306.80" width="14.92" height="13.00" fill="#ffffff"/>
<rect x="481.25" y="306.80" width="14.92" height="13.00" fill="#6b99c5"/>
<rect x="495.87" y="306.80" width="14.92" height="13.00" fill="#6b99c5"/>
<rect x="510.48" y="306.80" width="14.92" height="13.00" fill="#6b99c5"/>
<rect x="437.40" y="319.50" width="14.92" height="13.00" fill="#fcd5d6"/>
<rect x="452.02" y="319.50" width="14.92" height="13.00" fill="#fde5e5"/>
<rect x="466.63" y="319.50" width="14.92" height="13.00" fill="#fac1c4"/>
<rect x="481.25" y="319.50" width="14.92" height="13.00" fill="#4f85b9"/>
<rect x="495.87" y="319.50" width="14.92" height="13.00" fill="#4f85b9"/>
<rect x="510.48" y="319.50" width="14.92" height="13.00" fill="#4f85b9"/>
<rect x="437.40" y="332.20" width="14.92" height="13.00" fill="#fcd5d6"/>
<rect x="452.02" y="332.20" width="14.92" height="13.00" fill="#fde5e5"/>
<rect x="466.63" y="332.20" width="14.92" height="13.00" fill="#fac1c4"/>
<rect x="481.25" y="332.20" width="14.92" height="13.00" fill="#3d77b1"/>
<rect x="495.87" y="332.20" width="14.92" height="13.00" fill="#3d77b1"/>
<rect x="510.48" y="332.20" width="14.92" height="13.00" fill="#3d77b1"/>
<rect x="437.40" y="344.90" width="14.92" height="13.00" fill="#e1e9f2"/>
<rect x="452.02" y="344.90" width="14.92" height="13.00" fill="#f48b8f"/>
<rect x="466.63" y="344.90" width="14.92" height="13.00" fill="#fcd5d6"/>
<rect x="481.25" y="344.90" width="14.92" height="13.00" fill="#6b99c5"/>
<rect x="495.87" y="344.90" width="14.92" height="13.00" fill="#6b99c5"/>
<rect x="510.48" y="344.90" width="14.92" height="13.00" fill="#a6c2db"/>
<rect x="437.40" y="357.60" width="14.92" height="13.00" fill="#fac1c4"/>
<rect x="452.02" y="357.60" width="14.92" height="13.00" fill="#f48b8f"/>
<rect x="466.63" y="357.60" width="14.92" height="13.00" fill="#c6d7e8"/>
<rect x="481.25" y="357.60" width="14.92" height="13.00" fill="#3d77b1"/>
<rect x="495.87" y="357.60" width="14.92" height="13.00" fill="#3d77b1"/>
<rect x="510.48" y="357.60" width="14.92" height="13.00" fill="#3d77b1"/>
<rect x="437.40" y="370.30" width="14.92" height="13.00" fill="#fcd5d6"/>
<rect x="452.02" y="370.30" width="14.92" height="13.00" fill="#fcd5d6"/>
<rect x="466.63" y="370.30" width="14.92" height="13.00" fill="#fac1c4"/>
<rect x="481.25" y="370.30" width="14.92" height="13.00" fill="#4f85b9"/>
<rect x="495.87" y="370.30" width="14.92" height="13.00" fill="#a6c2db"/>
<rect x="510.48" y="370.30" width="14.92" height="13.00" fill="#a6c2db"/>
<rect x="81.90" y="384.80" width="14.82" height="12.90" fill="#fac1c4"/>
<rect x="96.42" y="384.80" width="14.82" height="12.90" fill="#f7a7ab"/>
<rect x="110.93" y="384.80" width="14.82" height="12.90" fill="#c6d7e8"/>
<rect x="125.45" y="384.80" width="14.82" height="12.90" fill="#6b99c5"/>
<rect x="139.97" y="384.80" width="14.82" height="12.90" fill="#6b99c5"/>
<rect x="154.48" y="384.80" width="14.82" height="12.90" fill="#8cb0d1"/>
<rect x="81.90" y="397.40" width="14.82" height="12.90" fill="#fde5e5"/>
<rect x="96.42" y="397.40" width="14.82" height="12.90" fill="#fcf4f5"/>
<rect x="110.93" y="397.40" width="14.82" height="12.90" fill="#f7a7ab"/>
<rect x="125.45" y="397.40" width="14.82" height="12.90" fill="#4f85b9"/>
<rect x="139.97" y="397.40" width="14.82" height="12.90" fill="#3d77b1"/>
<rect x="154.48" y="397.40" width="14.82" height="12.90" fill="#3d77b1"/>
<rect x="81.90" y="410.00" width="14.82" height="12.90" fill="#fde5e5"/>
<rect x="96.42" y="410.00" width="14.82" height="12.90" fill="#fde5e5"/>
<rect x="110.93" y="410.00" width="14.82" height="12.90" fill="#fcd5d6"/>
<rect x="125.45" y="410.00" width="14.82" height="12.90" fill="#3d77b1"/>
<rect x="139.97" y="410.00" width="14.82" height="12.90" fill="#3d77b1"/>
<rect x="154.48" y="410.00" width="14.82" height="12.90" fill="#3d77b1"/>
<rect x="81.90" y="422.60" width="14.82" height="12.90" fill="#fde5e5"/>
<rect x="96.42" y="422.60" width="14.82" height="12.90" fill="#fde5e5"/>
<rect x="110.93" y="422.60" width="14.82" height="12.90" fill="#fcd5d6"/>
<rect x="125.45" y="422.60" width="14.82" height="12.90" fill="#3d77b1"/>
<rect x="139.97" y="422.60" width="14.82" height="12.90" fill="#3d77b1"/>
<rect x="154.48" y="422.60" width="14.82" height="12.90" fill="#3d77b1"/>
<rect x="81.90" y="435.20" width="14.82" height="12.90" fill="#f7a7ab"/>
<rect x="96.42" y="435.20" width="14.82" height="12.90" fill="#fcd5d6"/>
<rect x="110.93" y="435.20" width="14.82" height="12.90" fill="#e1e9f2"/>
<rect x="125.45" y="435.20" width="14.82" height="12.90" fill="#3d77b1"/>
<rect x="139.97" y="435.20" width="14.82" height="12.90" fill="#3d77b1"/>
<rect x="154.48" y="435.20" width="14.82" height="12.90" fill="#3d77b1"/>
<rect x="81.90" y="447.80" width="14.82" height="12.90" fill="#fcf4f5"/>
<rect x="96.42" y="447.80" width="14.82" height="12.90" fill="#fac1c4"/>
<rect x="110.93" y="447.80" width="14.82" height="12.90" fill="#fac1c4"/>
<rect x="125.45" y="447.80" width="14.82" height="12.90" fill="#6b99c5"/>
<rect x="139.97" y="447.80" width="14.82" height="12.90" fill="#6b99c5"/>
<rect x="154.48" y="447.80" width="14.82" height="12.90" fill="#4f85b9"/>
<rect x="81.90" y="460.40" width="14.82" height="12.90" fill="#fcd5d6"/>
<rect x="96.42" y="460.40" width="14.82" height="12.90" fill="#fde5e5"/>
<rect x="110.93" y="460.40" width="14.82" height="12.90" fill="#fac1c4"/>
<rect x="125.45" y="460.40" width="14.82" height="12.90" fill="#c6d7e8"/>
<rect x="139.97" y="460.40" width="14.82" height="12.90" fill="#c6d7e8"/>
<rect x="154.48" y="460.40" width="14.82" height="12.90" fill="#c6d7e8"/>
<rect x="170.20" y="384.80" width="14.94" height="12.90" fill="#f7a7ab"/>
<rect x="184.84" y="384.80" width="14.94" height="12.90" fill="#fde5e5"/>
<rect x="199.48" y="384.80" width="14.94" height="12.90" fill="#fcd5d6"/>
<rect x="214.12" y="384.80" width="14.94" height="12.90" fill="#3d77b1"/>
<rect x="228.77" y="384.80" width="14.94" height="12.90" fill="#3d77b1"/>
<rect x="243.41" y="384.80" width="14.94" height="12.90" fill="#3d77b1"/>
<rect x="170.20" y="397.40" width="14.94" height="12.90" fill="#fac1c4"/>
<rect x="184.84" y="397.40" width="14.94" height="12.90" fill="#fcd5d6"/>
<rect x="199.48" y="397.40" width="14.94" height="12.90" fill="#ffffff"/>
<rect x="214.12" y="397.40" width="14.94" height="12.90" fill="#6b99c5"/>
<rect x="228.77" y="397.40" width="14.94" height="12.90" fill="#4f85b9"/>
<rect x="243.41" y="397.40" width="14.94" height="12.90" fill="#6b99c5"/>
<rect x="170.20" y="410.00" width="14.94" height="12.90" fill="#fde5e5"/>
<rect x="184.84" y="410.00" width="14.94" height="12.90" fill="#ffffff"/>
<rect x="199.48" y="410.00" width="14.94" height="12.90" fill="#f7a7ab"/>
<rect x="214.12" y="410.00" width="14.94" height="12.90" fill="#ee2a24"/>
<rect x="228.77" y="410.00" width="14.94" height="12.90" fill="#ee2a24"/>
<rect x="243.41" y="410.00" width="14.94" height="12.90" fill="#ee2a24"/>
<rect x="170.20" y="422.60" width="14.94" height="12.90" fill="#c6d7e8"/>
<rect x="184.84" y="422.60" width="14.94" height="12.90" fill="#fac1c4"/>
<rect x="199.48" y="422.60" width="14.94" height="12.90" fill="#f48b8f"/>
<rect x="214.12" y="422.60" width="14.94" height="12.90" fill="#3d77b1"/>
<rect x="228.77" y="422.60" width="14.94" height="12.90" fill="#3d77b1"/>
<rect x="243.41" y="422.60" width="14.94" height="12.90" fill="#3d77b1"/>
<rect x="170.20" y="435.20" width="14.94" height="12.90" fill="#fac1c4"/>
<rect x="184.84" y="435.20" width="14.94" height="12.90" fill="#fac1c4"/>
<rect x="199.48" y="435.20" width="14.94" height="12.90" fill="#e1e9f2"/>
<rect x="214.12" y="435.20" width="14.94" height="12.90" fill="#c6d7e8"/>
<rect x="228.77" y="435.20" width="14.94" height="12.90" fill="#a6c2db"/>
<rect x="243.41" y="435.20" width="14.94" height="12.90" fill="#ffffff"/>
<rect x="170.20" y="447.80" width="14.94" height="12.90" fill="#fac1c4"/>
<rect x="184.84" y="447.80" width="14.94" height="12.90" fill="#fcd5d6"/>
<rect x="199.48" y="447.80" width="14.94" height="12.90" fill="#fde5e5"/>
<rect x="214.12" y="447.80" width="14.94" height="12.90" fill="#3d77b1"/>
<rect x="228.77" y="447.80" width="14.94" height="12.90" fill="#3d77b1"/>
<rect x="243.41" y="447.80" width="14.94" height="12.90" fill="#3d77b1"/>
<rect x="170.20" y="460.40" width="14.94" height="12.90" fill="#fde5e5"/>
<rect x="184.84" y="460.40" width="14.94" height="12.90" fill="#f7a7ab"/>
<rect x="199.48" y="460.40" width="14.94" height="12.90" fill="#fde5e5"/>
<rect x="214.12" y="460.40" width="14.94" height="12.90" fill="#a6c2db"/>
<rect x="228.77" y="460.40" width="14.94" height="12.90" fill="#c6d7e8"/>
<rect x="243.41" y="460.40" width="14.94" height="12.90" fill="#c6d7e8"/>
<rect x="259.60" y="384.80" width="14.83" height="12.90" fill="#e1e9f2"/>
<rect x="274.13" y="384.80" width="14.83" height="12.90" fill="#fac1c4"/>
<rect x="288.67" y="384.80" width="14.83" height="12.90" fill="#f7a7ab"/>
<rect x="303.20" y="384.80" width="14.83" height="12.90" fill="#3d77b1"/>
<rect x="317.73" y="384.80" width="14.83" height="12.90" fill="#3d77b1"/>
<rect x="332.27" y="384.80" width="14.83" height="12.90" fill="#3d77b1"/>
<rect x="259.60" y="397.40" width="14.83" height="12.90" fill="#fde5e5"/>
<rect x="274.13" y="397.40" width="14.83" height="12.90" fill="#e1e9f2"/>
<rect x="288.67" y="397.40" width="14.83" height="12.90" fill="#f7a7ab"/>
<rect x="303.20" y="397.40" width="14.83" height="12.90" fill="#4f85b9"/>
<rect x="317.73" y="397.40" width="14.83" height="12.90" fill="#6b99c5"/>
<rect x="332.27" y="397.40" width="14.83" height="12.90" fill="#6b99c5"/>
<rect x="259.60" y="410.00" width="14.83" height="12.90" fill="#fcf4f5"/>
<rect x="274.13" y="410.00" width="14.83" height="12.90" fill="#f7a7ab"/>
<rect x="288.67" y="410.00" width="14.83" height="12.90" fill="#fde5e5"/>
<rect x="303.20" y="410.00" width="14.83" height="12.90" fill="#4f85b9"/>
<rect x="317.73" y="410.00" width="14.83" height="12.90" fill="#4f85b9"/>
<rect x="332.27" y="410.00" width="14.83" height="12.90" fill="#4f85b9"/>
<rect x="259.60" y="422.60" width="14.83" height="12.90" fill="#fcd5d6"/>
<rect x="274.13" y="422.60" width="14.83" height="12.90" fill="#fde5e5"/>
<rect x="288.67" y="422.60" width="14.83" height="12.90" fill="#fcd5d6"/>
<rect x="303.20" y="422.60" width="14.83" height="12.90" fill="#3d77b1"/>
<rect x="317.73" y="422.60" width="14.83" height="12.90" fill="#3d77b1"/>
<rect x="332.27" y="422.60" width="14.83" height="12.90" fill="#3d77b1"/>
<rect x="259.60" y="435.20" width="14.83" height="12.90" fill="#f7a7ab"/>
<rect x="274.13" y="435.20" width="14.83" height="12.90" fill="#fde5e5"/>
<rect x="288.67" y="435.20" width="14.83" height="12.90" fill="#fcf4f5"/>
<rect x="303.20" y="435.20" width="14.83" height="12.90" fill="#3d77b1"/>
<rect x="317.73" y="435.20" width="14.83" height="12.90" fill="#3d77b1"/>
<rect x="332.27" y="435.20" width="14.83" height="12.90" fill="#3d77b1"/>
<rect x="259.60" y="447.80" width="14.83" height="12.90" fill="#fde5e5"/>
<rect x="274.13" y="447.80" width="14.83" height="12.90" fill="#fde5e5"/>
<rect x="288.67" y="447.80" width="14.83" height="12.90" fill="#fac1c4"/>
<rect x="303.20" y="447.80" width="14.83" height="12.90" fill="#3d77b1"/>
<rect x="317.73" y="447.80" width="14.83" height="12.90" fill="#3d77b1"/>
<rect x="332.27" y="447.80" width="14.83" height="12.90" fill="#3d77b1"/>
<rect x="259.60" y="460.40" width="14.83" height="12.90" fill="#f7a7ab"/>
<rect x="274.13" y="460.40" width="14.83" height="12.90" fill="#fcd5d6"/>
<rect x="288.67" y="460.40" width="14.83" height="12.90" fill="#fde5e5"/>
<rect x="303.20" y="460.40" width="14.83" height="12.90" fill="#a6c2db"/>
<rect x="317.73" y="460.40" width="14.83" height="12.90" fill="#a6c2db"/>
<rect x="332.27" y="460.40" width="14.83" height="12.90" fill="#8cb0d1"/>
<rect x="348.20" y="384.80" width="14.86" height="12.90" fill="#fde5e5"/>
<rect x="362.76" y="384.80" width="14.86" height="12.90" fill="#f7a7ab"/>
<rect x="377.32" y="384.80" width="14.86" height="12.90" fill="#e1e9f2"/>
<rect x="391.88" y="384.80" width="14.86" height="12.90" fill="#4f85b9"/>
<rect x="406.43" y="384.80" width="14.86" height="12.90" fill="#4f85b9"/>
<rect x="420.99" y="384.80" width="14.86" height="12.90" fill="#8cb0d1"/>
<rect x="348.20" y="397.40" width="14.86" height="12.90" fill="#fcd5d6"/>
<rect x="362.76" y="397.40" width="14.86" height="12.90" fill="#fac1c4"/>
<rect x="377.32" y="397.40" width="14.86" height="12.90" fill="#e1e9f2"/>
<rect x="391.88" y="397.40" width="14.86" height="12.90" fill="#f7a7ab"/>
<rect x="406.43" y="397.40" width="14.86" height="12.90" fill="#fac1c4"/>
<rect x="420.99" y="397.40" width="14.86" height="12.90" fill="#e1e9f2"/>
<rect x="348.20" y="410.00" width="14.86" height="12.90" fill="#fcd5d6"/>
<rect x="362.76" y="410.00" width="14.86" height="12.90" fill="#fde5e5"/>
<rect x="377.32" y="410.00" width="14.86" height="12.90" fill="#fcd5d6"/>
<rect x="391.88" y="410.00" width="14.86" height="12.90" fill="#a6c2db"/>
<rect x="406.43" y="410.00" width="14.86" height="12.90" fill="#8cb0d1"/>
<rect x="420.99" y="410.00" width="14.86" height="12.90" fill="#8cb0d1"/>
<rect x="348.20" y="422.60" width="14.86" height="12.90" fill="#fcd5d6"/>
<rect x="362.76" y="422.60" width="14.86" height="12.90" fill="#fde5e5"/>
<rect x="377.32" y="422.60" width="14.86" height="12.90" fill="#fcd5d6"/>
<rect x="391.88" y="422.60" width="14.86" height="12.90" fill="#ee2a24"/>
<rect x="406.43" y="422.60" width="14.86" height="12.90" fill="#ee2a24"/>
<rect x="420.99" y="422.60" width="14.86" height="12.90" fill="#ee2a24"/>
<rect x="348.20" y="435.20" width="14.86" height="12.90" fill="#fcd5d6"/>
<rect x="362.76" y="435.20" width="14.86" height="12.90" fill="#fcd5d6"/>
<rect x="377.32" y="435.20" width="14.86" height="12.90" fill="#fde5e5"/>
<rect x="391.88" y="435.20" width="14.86" height="12.90" fill="#fde5e5"/>
<rect x="406.43" y="435.20" width="14.86" height="12.90" fill="#f7a7ab"/>
<rect x="420.99" y="435.20" width="14.86" height="12.90" fill="#e1e9f2"/>
<rect x="348.20" y="447.80" width="14.86" height="12.90" fill="#fac1c4"/>
<rect x="362.76" y="447.80" width="14.86" height="12.90" fill="#fde5e5"/>
<rect x="377.32" y="447.80" width="14.86" height="12.90" fill="#fcf4f5"/>
<rect x="391.88" y="447.80" width="14.86" height="12.90" fill="#3d77b1"/>
<rect x="406.43" y="447.80" width="14.86" height="12.90" fill="#3d77b1"/>
<rect x="420.99" y="447.80" width="14.86" height="12.90" fill="#3d77b1"/>
<rect x="348.20" y="460.40" width="14.86" height="12.90" fill="#fcf4f5"/>
<rect x="362.76" y="460.40" width="14.86" height="12.90" fill="#fcd5d6"/>
<rect x="377.32" y="460.40" width="14.86" height="12.90" fill="#fac1c4"/>
<rect x="391.88" y="460.40" width="14.86" height="12.90" fill="#c6d7e8"/>
<rect x="406.43" y="460.40" width="14.86" height="12.90" fill="#c6d7e8"/>
<rect x="420.99" y="460.40" width="14.86" height="12.90" fill="#ffffff"/>
<rect x="437.40" y="384.80" width="14.92" height="12.90" fill="#fcd5d6"/>
<rect x="452.02" y="384.80" width="14.92" height="12.90" fill="#fcd5d6"/>
<rect x="466.63" y="384.80" width="14.92" height="12.90" fill="#fcd5d6"/>
<rect x="481.25" y="384.80" width="14.92" height="12.90" fill="#c6d7e8"/>
<rect x="495.87" y="384.80" width="14.92" height="12.90" fill="#c6d7e8"/>
<rect x="510.48" y="384.80" width="14.92" height="12.90" fill="#c6d7e8"/>
<rect x="437.40" y="397.40" width="14.92" height="12.90" fill="#fcd5d6"/>
<rect x="452.02" y="397.40" width="14.92" height="12.90" fill="#fcd5d6"/>
<rect x="466.63" y="397.40" width="14.92" height="12.90" fill="#fcd5d6"/>
<rect x="481.25" y="397.40" width="14.92" height="12.90" fill="#6b99c5"/>
<rect x="495.87" y="397.40" width="14.92" height="12.90" fill="#6b99c5"/>
<rect x="510.48" y="397.40" width="14.92" height="12.90" fill="#6b99c5"/>
<rect x="437.40" y="410.00" width="14.92" height="12.90" fill="#fcd5d6"/>
<rect x="452.02" y="410.00" width="14.92" height="12.90" fill="#fcd5d6"/>
<rect x="466.63" y="410.00" width="14.92" height="12.90" fill="#fde5e5"/>
<rect x="481.25" y="410.00" width="14.92" height="12.90" fill="#4f85b9"/>
<rect x="495.87" y="410.00" width="14.92" height="12.90" fill="#6b99c5"/>
<rect x="510.48" y="410.00" width="14.92" height="12.90" fill="#6b99c5"/>
<rect x="437.40" y="422.60" width="14.92" height="12.90" fill="#fcf4f5"/>
<rect x="452.02" y="422.60" width="14.92" height="12.90" fill="#fcd5d6"/>
<rect x="466.63" y="422.60" width="14.92" height="12.90" fill="#fac1c4"/>
<rect x="481.25" y="422.60" width="14.92" height="12.90" fill="#8cb0d1"/>
<rect x="495.87" y="422.60" width="14.92" height="12.90" fill="#8cb0d1"/>
<rect x="510.48" y="422.60" width="14.92" height="12.90" fill="#8cb0d1"/>
<rect x="437.40" y="435.20" width="14.92" height="12.90" fill="#fcd5d6"/>
<rect x="452.02" y="435.20" width="14.92" height="12.90" fill="#fde5e5"/>
<rect x="466.63" y="435.20" width="14.92" height="12.90" fill="#fcd5d6"/>
<rect x="481.25" y="435.20" width="14.92" height="12.90" fill="#3d77b1"/>
<rect x="495.87" y="435.20" width="14.92" height="12.90" fill="#3d77b1"/>
<rect x="510.48" y="435.20" width="14.92" height="12.90" fill="#3d77b1"/>
<rect x="437.40" y="447.80" width="14.92" height="12.90" fill="#fde5e5"/>
<rect x="452.02" y="447.80" width="14.92" height="12.90" fill="#fac1c4"/>
<rect x="466.63" y="447.80" width="14.92" height="12.90" fill="#fde5e5"/>
<rect x="481.25" y="447.80" width="14.92" height="12.90" fill="#3d77b1"/>
<rect x="495.87" y="447.80" width="14.92" height="12.90" fill="#4f85b9"/>
<rect x="510.48" y="447.80" width="14.92" height="12.90" fill="#3d77b1"/>
<rect x="437.40" y="460.40" width="14.92" height="12.90" fill="#fde5e5"/>
<rect x="452.02" y="460.40" width="14.92" height="12.90" fill="#fac1c4"/>
<rect x="466.63" y="460.40" width="14.92" height="12.90" fill="#fcd5d6"/>
<rect x="481.25" y="460.40" width="14.92" height="12.90" fill="#f7a7ab"/>
<rect x="495.87" y="460.40" width="14.92" height="12.90" fill="#ef4e51"/>
<rect x="510.48" y="460.40" width="14.92" height="12.90" fill="#f7a7ab"/>
<rect x="81.90" y="474.80" width="14.82" height="12.87" fill="#f7a7ab"/>
<rect x="96.42" y="474.80" width="14.82" height="12.87" fill="#e1e9f2"/>
<rect x="110.93" y="474.80" width="14.82" height="12.87" fill="#fac1c4"/>
<rect x="125.45" y="474.80" width="14.82" height="12.87" fill="#6b99c5"/>
<rect x="139.97" y="474.80" width="14.82" height="12.87" fill="#6b99c5"/>
<rect x="154.48" y="474.80" width="14.82" height="12.87" fill="#4f85b9"/>
<rect x="81.90" y="487.37" width="14.82" height="12.87" fill="#fac1c4"/>
<rect x="96.42" y="487.37" width="14.82" height="12.87" fill="#fcd5d6"/>
<rect x="110.93" y="487.37" width="14.82" height="12.87" fill="#fde5e5"/>
<rect x="125.45" y="487.37" width="14.82" height="12.87" fill="#6b99c5"/>
<rect x="139.97" y="487.37" width="14.82" height="12.87" fill="#4f85b9"/>
<rect x="154.48" y="487.37" width="14.82" height="12.87" fill="#6b99c5"/>
<rect x="81.90" y="499.94" width="14.82" height="12.87" fill="#fcd5d6"/>
<rect x="96.42" y="499.94" width="14.82" height="12.87" fill="#fde5e5"/>
<rect x="110.93" y="499.94" width="14.82" height="12.87" fill="#fac1c4"/>
<rect x="125.45" y="499.94" width="14.82" height="12.87" fill="#6b99c5"/>
<rect x="139.97" y="499.94" width="14.82" height="12.87" fill="#8cb0d1"/>
<rect x="154.48" y="499.94" width="14.82" height="12.87" fill="#6b99c5"/>
<rect x="81.90" y="512.51" width="14.82" height="12.87" fill="#fcd5d6"/>
<rect x="96.42" y="512.51" width="14.82" height="12.87" fill="#fcd5d6"/>
<rect x="110.93" y="512.51" width="14.82" height="12.87" fill="#fcd5d6"/>
<rect x="125.45" y="512.51" width="14.82" height="12.87" fill="#3d77b1"/>
<rect x="139.97" y="512.51" width="14.82" height="12.87" fill="#3d77b1"/>
<rect x="154.48" y="512.51" width="14.82" height="12.87" fill="#3d77b1"/>
<rect x="81.90" y="525.08" width="14.82" height="12.87" fill="#fac1c4"/>
<rect x="96.42" y="525.08" width="14.82" height="12.87" fill="#fac1c4"/>
<rect x="110.93" y="525.08" width="14.82" height="12.87" fill="#e1e9f2"/>
<rect x="125.45" y="525.08" width="14.82" height="12.87" fill="#8cb0d1"/>
<rect x="139.97" y="525.08" width="14.82" height="12.87" fill="#8cb0d1"/>
<rect x="154.48" y="525.08" width="14.82" height="12.87" fill="#8cb0d1"/>
<rect x="81.90" y="537.65" width="14.82" height="12.87" fill="#fac1c4"/>
<rect x="96.42" y="537.65" width="14.82" height="12.87" fill="#fac1c4"/>
<rect x="110.93" y="537.65" width="14.82" height="12.87" fill="#fcd5d6"/>
<rect x="125.45" y="537.65" width="14.82" height="12.87" fill="#6b99c5"/>
<rect x="139.97" y="537.65" width="14.82" height="12.87" fill="#8cb0d1"/>
<rect x="154.48" y="537.65" width="14.82" height="12.87" fill="#6b99c5"/>
<rect x="170.20" y="474.80" width="14.94" height="12.87" fill="#f7a7ab"/>
<rect x="184.84" y="474.80" width="14.94" height="12.87" fill="#fde5e5"/>
<rect x="199.48" y="474.80" width="14.94" height="12.87" fill="#fcf4f5"/>
<rect x="214.12" y="474.80" width="14.94" height="12.87" fill="#3d77b1"/>
<rect x="228.77" y="474.80" width="14.94" height="12.87" fill="#3d77b1"/>
<rect x="243.41" y="474.80" width="14.94" height="12.87" fill="#3d77b1"/>
<rect x="170.20" y="487.37" width="14.94" height="12.87" fill="#fcd5d6"/>
<rect x="184.84" y="487.37" width="14.94" height="12.87" fill="#fcf4f5"/>
<rect x="199.48" y="487.37" width="14.94" height="12.87" fill="#f7a7ab"/>
<rect x="214.12" y="487.37" width="14.94" height="12.87" fill="#4f85b9"/>
<rect x="228.77" y="487.37" width="14.94" height="12.87" fill="#4f85b9"/>
<rect x="243.41" y="487.37" width="14.94" height="12.87" fill="#4f85b9"/>
<rect x="170.20" y="499.94" width="14.94" height="12.87" fill="#fcd5d6"/>
<rect x="184.84" y="499.94" width="14.94" height="12.87" fill="#fcd5d6"/>
<rect x="199.48" y="499.94" width="14.94" height="12.87" fill="#fac1c4"/>
<rect x="214.12" y="499.94" width="14.94" height="12.87" fill="#6b99c5"/>
<rect x="228.77" y="499.94" width="14.94" height="12.87" fill="#6b99c5"/>
<rect x="243.41" y="499.94" width="14.94" height="12.87" fill="#6b99c5"/>
<rect x="170.20" y="512.51" width="14.94" height="12.87" fill="#fcd5d6"/>
<rect x="184.84" y="512.51" width="14.94" height="12.87" fill="#fcd5d6"/>
<rect x="199.48" y="512.51" width="14.94" height="12.87" fill="#fcd5d6"/>
<rect x="214.12" y="512.51" width="14.94" height="12.87" fill="#4f85b9"/>
<rect x="228.77" y="512.51" width="14.94" height="12.87" fill="#4f85b9"/>
<rect x="243.41" y="512.51" width="14.94" height="12.87" fill="#4f85b9"/>
<rect x="170.20" y="525.08" width="14.94" height="12.87" fill="#fcd5d6"/>
<rect x="184.84" y="525.08" width="14.94" height="12.87" fill="#f7a7ab"/>
<rect x="199.48" y="525.08" width="14.94" height="12.87" fill="#e1e9f2"/>
<rect x="214.12" y="525.08" width="14.94" height="12.87" fill="#e1e9f2"/>
<rect x="228.77" y="525.08" width="14.94" height="12.87" fill="#f7a7ab"/>
<rect x="243.41" y="525.08" width="14.94" height="12.87" fill="#8cb0d1"/>
<rect x="170.20" y="537.65" width="14.94" height="12.87" fill="#fcd5d6"/>
<rect x="184.84" y="537.65" width="14.94" height="12.87" fill="#fde5e5"/>
<rect x="199.48" y="537.65" width="14.94" height="12.87" fill="#f7a7ab"/>
<rect x="214.12" y="537.65" width="14.94" height="12.87" fill="#4f85b9"/>
<rect x="228.77" y="537.65" width="14.94" height="12.87" fill="#3d77b1"/>
<rect x="243.41" y="537.65" width="14.94" height="12.87" fill="#4f85b9"/>
<rect x="259.60" y="474.80" width="14.83" height="12.87" fill="#e1e9f2"/>
<rect x="274.13" y="474.80" width="14.83" height="12.87" fill="#f7a7ab"/>
<rect x="288.67" y="474.80" width="14.83" height="12.87" fill="#f7a7ab"/>
<rect x="303.20" y="474.80" width="14.83" height="12.87" fill="#3d77b1"/>
<rect x="317.73" y="474.80" width="14.83" height="12.87" fill="#3d77b1"/>
<rect x="332.27" y="474.80" width="14.83" height="12.87" fill="#4f85b9"/>
<rect x="259.60" y="487.37" width="14.83" height="12.87" fill="#fde5e5"/>
<rect x="274.13" y="487.37" width="14.83" height="12.87" fill="#fde5e5"/>
<rect x="288.67" y="487.37" width="14.83" height="12.87" fill="#fac1c4"/>
<rect x="303.20" y="487.37" width="14.83" height="12.87" fill="#6b99c5"/>
<rect x="317.73" y="487.37" width="14.83" height="12.87" fill="#4f85b9"/>
<rect x="332.27" y="487.37" width="14.83" height="12.87" fill="#4f85b9"/>
<rect x="259.60" y="499.94" width="14.83" height="12.87" fill="#fcd5d6"/>
<rect x="274.13" y="499.94" width="14.83" height="12.87" fill="#fcd5d6"/>
<rect x="288.67" y="499.94" width="14.83" height="12.87" fill="#fcd5d6"/>
<rect x="303.20" y="499.94" width="14.83" height="12.87" fill="#8cb0d1"/>
<rect x="317.73" y="499.94" width="14.83" height="12.87" fill="#6b99c5"/>
<rect x="332.27" y="499.94" width="14.83" height="12.87" fill="#8cb0d1"/>
<rect x="259.60" y="512.51" width="14.83" height="12.87" fill="#fcd5d6"/>
<rect x="274.13" y="512.51" width="14.83" height="12.87" fill="#fde5e5"/>
<rect x="288.67" y="512.51" width="14.83" height="12.87" fill="#fcd5d6"/>
<rect x="303.20" y="512.51" width="14.83" height="12.87" fill="#3d77b1"/>
<rect x="317.73" y="512.51" width="14.83" height="12.87" fill="#3d77b1"/>
<rect x="332.27" y="512.51" width="14.83" height="12.87" fill="#3d77b1"/>
<rect x="259.60" y="525.08" width="14.83" height="12.87" fill="#e1e9f2"/>
<rect x="274.13" y="525.08" width="14.83" height="12.87" fill="#f48b8f"/>
<rect x="288.67" y="525.08" width="14.83" height="12.87" fill="#fde5e5"/>
<rect x="303.20" y="525.08" width="14.83" height="12.87" fill="#e1e9f2"/>
<rect x="317.73" y="525.08" width="14.83" height="12.87" fill="#c6d7e8"/>
<rect x="332.27" y="525.08" width="14.83" height="12.87" fill="#8cb0d1"/>
<rect x="259.60" y="537.65" width="14.83" height="12.87" fill="#fcd5d6"/>
<rect x="274.13" y="537.65" width="14.83" height="12.87" fill="#fde5e5"/>
<rect x="288.67" y="537.65" width="14.83" height="12.87" fill="#fcd5d6"/>
<rect x="303.20" y="537.65" width="14.83" height="12.87" fill="#8cb0d1"/>
<rect x="317.73" y="537.65" width="14.83" height="12.87" fill="#6b99c5"/>
<rect x="332.27" y="537.65" width="14.83" height="12.87" fill="#6b99c5"/>
<rect x="348.20" y="474.80" width="14.86" height="12.87" fill="#fde5e5"/>
<rect x="362.76" y="474.80" width="14.86" height="12.87" fill="#fcd5d6"/>
<rect x="377.32" y="474.80" width="14.86" height="12.87" fill="#fcd5d6"/>
<rect x="391.88" y="474.80" width="14.86" height="12.87" fill="#8cb0d1"/>
<rect x="406.43" y="474.80" width="14.86" height="12.87" fill="#4f85b9"/>
<rect x="420.99" y="474.80" width="14.86" height="12.87" fill="#6b99c5"/>
<rect x="348.20" y="487.37" width="14.86" height="12.87" fill="#f7a7ab"/>
<rect x="362.76" y="487.37" width="14.86" height="12.87" fill="#fcf4f5"/>
<rect x="377.32" y="487.37" width="14.86" height="12.87" fill="#fde5e5"/>
<rect x="391.88" y="487.37" width="14.86" height="12.87" fill="#e1e9f2"/>
<rect x="406.43" y="487.37" width="14.86" height="12.87" fill="#fcd5d6"/>
<rect x="420.99" y="487.37" width="14.86" height="12.87" fill="#e1e9f2"/>
<rect x="348.20" y="499.94" width="14.86" height="12.87" fill="#fcd5d6"/>
<rect x="362.76" y="499.94" width="14.86" height="12.87" fill="#fde5e5"/>
<rect x="377.32" y="499.94" width="14.86" height="12.87" fill="#fac1c4"/>
<rect x="391.88" y="499.94" width="14.86" height="12.87" fill="#4f85b9"/>
<rect x="406.43" y="499.94" width="14.86" height="12.87" fill="#4f85b9"/>
<rect x="420.99" y="499.94" width="14.86" height="12.87" fill="#4f85b9"/>
<rect x="348.20" y="512.51" width="14.86" height="12.87" fill="#fcd5d6"/>
<rect x="362.76" y="512.51" width="14.86" height="12.87" fill="#fcd5d6"/>
<rect x="377.32" y="512.51" width="14.86" height="12.87" fill="#fcd5d6"/>
<rect x="391.88" y="512.51" width="14.86" height="12.87" fill="#3d77b1"/>
<rect x="406.43" y="512.51" width="14.86" height="12.87" fill="#3d77b1"/>
<rect x="420.99" y="512.51" width="14.86" height="12.87" fill="#3d77b1"/>
<rect x="348.20" y="525.08" width="14.86" height="12.87" fill="#f7a7ab"/>
<rect x="362.76" y="525.08" width="14.86" height="12.87" fill="#fde5e5"/>
<rect x="377.32" y="525.08" width="14.86" height="12.87" fill="#fde5e5"/>
<rect x="391.88" y="525.08" width="14.86" height="12.87" fill="#fcd5d6"/>
<rect x="406.43" y="525.08" width="14.86" height="12.87" fill="#a6c2db"/>
<rect x="420.99" y="525.08" width="14.86" height="12.87" fill="#e1e9f2"/>
<rect x="348.20" y="537.65" width="14.86" height="12.87" fill="#fde5e5"/>
<rect x="362.76" y="537.65" width="14.86" height="12.87" fill="#fac1c4"/>
<rect x="377.32" y="537.65" width="14.86" height="12.87" fill="#fac1c4"/>
<rect x="391.88" y="537.65" width="14.86" height="12.87" fill="#3d77b1"/>
<rect x="406.43" y="537.65" width="14.86" height="12.87" fill="#3d77b1"/>
<rect x="420.99" y="537.65" width="14.86" height="12.87" fill="#3d77b1"/>
<rect x="437.40" y="474.80" width="14.92" height="12.87" fill="#f7a7ab"/>
<rect x="452.02" y="474.80" width="14.92" height="12.87" fill="#e1e9f2"/>
<rect x="466.63" y="474.80" width="14.92" height="12.87" fill="#fac1c4"/>
<rect x="481.25" y="474.80" width="14.92" height="12.87" fill="#6b99c5"/>
<rect x="495.87" y="474.80" width="14.92" height="12.87" fill="#4f85b9"/>
<rect x="510.48" y="474.80" width="14.92" height="12.87" fill="#4f85b9"/>
<rect x="437.40" y="487.37" width="14.92" height="12.87" fill="#fcf4f5"/>
<rect x="452.02" y="487.37" width="14.92" height="12.87" fill="#fcd5d6"/>
<rect x="466.63" y="487.37" width="14.92" height="12.87" fill="#f7a7ab"/>
<rect x="481.25" y="487.37" width="14.92" height="12.87" fill="#f48b8f"/>
<rect x="495.87" y="487.37" width="14.92" height="12.87" fill="#f48b8f"/>
<rect x="510.48" y="487.37" width="14.92" height="12.87" fill="#fcf4f5"/>
<rect x="437.40" y="499.94" width="14.92" height="12.87" fill="#fcd5d6"/>
<rect x="452.02" y="499.94" width="14.92" height="12.87" fill="#fcd5d6"/>
<rect x="466.63" y="499.94" width="14.92" height="12.87" fill="#fcd5d6"/>
<rect x="481.25" y="499.94" width="14.92" height="12.87" fill="#4f85b9"/>
<rect x="495.87" y="499.94" width="14.92" height="12.87" fill="#4f85b9"/>
<rect x="510.48" y="499.94" width="14.92" height="12.87" fill="#4f85b9"/>
<rect x="437.40" y="512.51" width="14.92" height="12.87" fill="#fcd5d6"/>
<rect x="452.02" y="512.51" width="14.92" height="12.87" fill="#fcd5d6"/>
<rect x="466.63" y="512.51" width="14.92" height="12.87" fill="#fac1c4"/>
<rect x="481.25" y="512.51" width="14.92" height="12.87" fill="#4f85b9"/>
<rect x="495.87" y="512.51" width="14.92" height="12.87" fill="#4f85b9"/>
<rect x="510.48" y="512.51" width="14.92" height="12.87" fill="#4f85b9"/>
<rect x="437.40" y="525.08" width="14.92" height="12.87" fill="#fcd5d6"/>
<rect x="452.02" y="525.08" width="14.92" height="12.87" fill="#fac1c4"/>
<rect x="466.63" y="525.08" width="14.92" height="12.87" fill="#fcd5d6"/>
<rect x="481.25" y="525.08" width="14.92" height="12.87" fill="#6b99c5"/>
<rect x="495.87" y="525.08" width="14.92" height="12.87" fill="#6b99c5"/>
<rect x="510.48" y="525.08" width="14.92" height="12.87" fill="#8cb0d1"/>
<rect x="437.40" y="537.65" width="14.92" height="12.87" fill="#fac1c4"/>
<rect x="452.02" y="537.65" width="14.92" height="12.87" fill="#fcd5d6"/>
<rect x="466.63" y="537.65" width="14.92" height="12.87" fill="#fde5e5"/>
<rect x="481.25" y="537.65" width="14.92" height="12.87" fill="#6b99c5"/>
<rect x="495.87" y="537.65" width="14.92" height="12.87" fill="#6b99c5"/>
<rect x="510.48" y="537.65" width="14.92" height="12.87" fill="#4f85b9"/>
<rect x="81.90" y="552.10" width="14.82" height="13.02" fill="#ffffff"/>
<rect x="96.42" y="552.10" width="14.82" height="13.02" fill="#f7a7ab"/>
<rect x="110.93" y="552.10" width="14.82" height="13.02" fill="#fcd5d6"/>
<rect x="125.45" y="552.10" width="14.82" height="13.02" fill="#8cb0d1"/>
<rect x="139.97" y="552.10" width="14.82" height="13.02" fill="#a6c2db"/>
<rect x="154.48" y="552.10" width="14.82" height="13.02" fill="#a6c2db"/>
<rect x="81.90" y="564.82" width="14.82" height="13.02" fill="#e1e9f2"/>
<rect x="96.42" y="564.82" width="14.82" height="13.02" fill="#fcd5d6"/>
<rect x="110.93" y="564.82" width="14.82" height="13.02" fill="#f48b8f"/>
<rect x="125.45" y="564.82" width="14.82" height="13.02" fill="#c6d7e8"/>
<rect x="139.97" y="564.82" width="14.82" height="13.02" fill="#4f85b9"/>
<rect x="154.48" y="564.82" width="14.82" height="13.02" fill="#6b99c5"/>
<rect x="81.90" y="577.54" width="14.82" height="13.02" fill="#fac1c4"/>
<rect x="96.42" y="577.54" width="14.82" height="13.02" fill="#fcd5d6"/>
<rect x="110.93" y="577.54" width="14.82" height="13.02" fill="#fcf4f5"/>
<rect x="125.45" y="577.54" width="14.82" height="13.02" fill="#6b99c5"/>
<rect x="139.97" y="577.54" width="14.82" height="13.02" fill="#4f85b9"/>
<rect x="154.48" y="577.54" width="14.82" height="13.02" fill="#6b99c5"/>
<rect x="81.90" y="590.26" width="14.82" height="13.02" fill="#fde5e5"/>
<rect x="96.42" y="590.26" width="14.82" height="13.02" fill="#fde5e5"/>
<rect x="110.93" y="590.26" width="14.82" height="13.02" fill="#fac1c4"/>
<rect x="125.45" y="590.26" width="14.82" height="13.02" fill="#3d77b1"/>
<rect x="139.97" y="590.26" width="14.82" height="13.02" fill="#3d77b1"/>
<rect x="154.48" y="590.26" width="14.82" height="13.02" fill="#3d77b1"/>
<rect x="81.90" y="602.98" width="14.82" height="13.02" fill="#fcd5d6"/>
<rect x="96.42" y="602.98" width="14.82" height="13.02" fill="#fde5e5"/>
<rect x="110.93" y="602.98" width="14.82" height="13.02" fill="#fac1c4"/>
<rect x="125.45" y="602.98" width="14.82" height="13.02" fill="#fcd5d6"/>
<rect x="139.97" y="602.98" width="14.82" height="13.02" fill="#fac1c4"/>
<rect x="154.48" y="602.98" width="14.82" height="13.02" fill="#fde5e5"/>
<rect x="81.90" y="615.70" width="14.82" height="13.02" fill="#fac1c4"/>
<rect x="96.42" y="615.70" width="14.82" height="13.02" fill="#fac1c4"/>
<rect x="110.93" y="615.70" width="14.82" height="13.02" fill="#fde5e5"/>
<rect x="125.45" y="615.70" width="14.82" height="13.02" fill="#a6c2db"/>
<rect x="139.97" y="615.70" width="14.82" height="13.02" fill="#a6c2db"/>
<rect x="154.48" y="615.70" width="14.82" height="13.02" fill="#a6c2db"/>
<rect x="170.20" y="552.10" width="14.94" height="13.02" fill="#fac1c4"/>
<rect x="184.84" y="552.10" width="14.94" height="13.02" fill="#fde5e5"/>
<rect x="199.48" y="552.10" width="14.94" height="13.02" fill="#fcd5d6"/>
<rect x="214.12" y="552.10" width="14.94" height="13.02" fill="#4f85b9"/>
<rect x="228.77" y="552.10" width="14.94" height="13.02" fill="#3d77b1"/>
<rect x="243.41" y="552.10" width="14.94" height="13.02" fill="#6b99c5"/>
<rect x="170.20" y="564.82" width="14.94" height="13.02" fill="#fcd5d6"/>
<rect x="184.84" y="564.82" width="14.94" height="13.02" fill="#fde5e5"/>
<rect x="199.48" y="564.82" width="14.94" height="13.02" fill="#f7a7ab"/>
<rect x="214.12" y="564.82" width="14.94" height="13.02" fill="#c6d7e8"/>
<rect x="228.77" y="564.82" width="14.94" height="13.02" fill="#a6c2db"/>
<rect x="243.41" y="564.82" width="14.94" height="13.02" fill="#a6c2db"/>
<rect x="170.20" y="577.54" width="14.94" height="13.02" fill="#fde5e5"/>
<rect x="184.84" y="577.54" width="14.94" height="13.02" fill="#fde5e5"/>
<rect x="199.48" y="577.54" width="14.94" height="13.02" fill="#fac1c4"/>
<rect x="214.12" y="577.54" width="14.94" height="13.02" fill="#f48b8f"/>
<rect x="228.77" y="577.54" width="14.94" height="13.02" fill="#f7a7ab"/>
<rect x="243.41" y="577.54" width="14.94" height="13.02" fill="#f7a7ab"/>
<rect x="170.20" y="590.26" width="14.94" height="13.02" fill="#fde5e5"/>
<rect x="184.84" y="590.26" width="14.94" height="13.02" fill="#fcd5d6"/>
<rect x="199.48" y="590.26" width="14.94" height="13.02" fill="#fcd5d6"/>
<rect x="214.12" y="590.26" width="14.94" height="13.02" fill="#6b99c5"/>
<rect x="228.77" y="590.26" width="14.94" height="13.02" fill="#6b99c5"/>
<rect x="243.41" y="590.26" width="14.94" height="13.02" fill="#6b99c5"/>
<rect x="170.20" y="602.98" width="14.94" height="13.02" fill="#f48b8f"/>
<rect x="184.84" y="602.98" width="14.94" height="13.02" fill="#fcd5d6"/>
<rect x="199.48" y="602.98" width="14.94" height="13.02" fill="#e1e9f2"/>
<rect x="214.12" y="602.98" width="14.94" height="13.02" fill="#6b99c5"/>
<rect x="228.77" y="602.98" width="14.94" height="13.02" fill="#c6d7e8"/>
<rect x="243.41" y="602.98" width="14.94" height="13.02" fill="#8cb0d1"/>
<rect x="170.20" y="615.70" width="14.94" height="13.02" fill="#fde5e5"/>
<rect x="184.84" y="615.70" width="14.94" height="13.02" fill="#fde5e5"/>
<rect x="199.48" y="615.70" width="14.94" height="13.02" fill="#f7a7ab"/>
<rect x="214.12" y="615.70" width="14.94" height="13.02" fill="#4f85b9"/>
<rect x="228.77" y="615.70" width="14.94" height="13.02" fill="#4f85b9"/>
<rect x="243.41" y="615.70" width="14.94" height="13.02" fill="#4f85b9"/>
<rect x="259.60" y="552.10" width="14.83" height="13.02" fill="#f7a7ab"/>
<rect x="274.13" y="552.10" width="14.83" height="13.02" fill="#ffffff"/>
<rect x="288.67" y="552.10" width="14.83" height="13.02" fill="#fcd5d6"/>
<rect x="303.20" y="552.10" width="14.83" height="13.02" fill="#4f85b9"/>
<rect x="317.73" y="552.10" width="14.83" height="13.02" fill="#3d77b1"/>
<rect x="332.27" y="552.10" width="14.83" height="13.02" fill="#6b99c5"/>
<rect x="259.60" y="564.82" width="14.83" height="13.02" fill="#c6d7e8"/>
<rect x="274.13" y="564.82" width="14.83" height="13.02" fill="#fde5e5"/>
<rect x="288.67" y="564.82" width="14.83" height="13.02" fill="#f16d72"/>
<rect x="303.20" y="564.82" width="14.83" height="13.02" fill="#f16d72"/>
<rect x="317.73" y="564.82" width="14.83" height="13.02" fill="#ee2a24"/>
<rect x="332.27" y="564.82" width="14.83" height="13.02" fill="#ef4e51"/>
<rect x="259.60" y="577.54" width="14.83" height="13.02" fill="#fcd5d6"/>
<rect x="274.13" y="577.54" width="14.83" height="13.02" fill="#fac1c4"/>
<rect x="288.67" y="577.54" width="14.83" height="13.02" fill="#fde5e5"/>
<rect x="303.20" y="577.54" width="14.83" height="13.02" fill="#a6c2db"/>
<rect x="317.73" y="577.54" width="14.83" height="13.02" fill="#a6c2db"/>
<rect x="332.27" y="577.54" width="14.83" height="13.02" fill="#a6c2db"/>
<rect x="259.60" y="590.26" width="14.83" height="13.02" fill="#fcd5d6"/>
<rect x="274.13" y="590.26" width="14.83" height="13.02" fill="#fcd5d6"/>
<rect x="288.67" y="590.26" width="14.83" height="13.02" fill="#fde5e5"/>
<rect x="303.20" y="590.26" width="14.83" height="13.02" fill="#c6d7e8"/>
<rect x="317.73" y="590.26" width="14.83" height="13.02" fill="#e1e9f2"/>
<rect x="332.27" y="590.26" width="14.83" height="13.02" fill="#e1e9f2"/>
<rect x="259.60" y="602.98" width="14.83" height="13.02" fill="#fac1c4"/>
<rect x="274.13" y="602.98" width="14.83" height="13.02" fill="#fac1c4"/>
<rect x="288.67" y="602.98" width="14.83" height="13.02" fill="#e1e9f2"/>
<rect x="303.20" y="602.98" width="14.83" height="13.02" fill="#a6c2db"/>
<rect x="317.73" y="602.98" width="14.83" height="13.02" fill="#8cb0d1"/>
<rect x="332.27" y="602.98" width="14.83" height="13.02" fill="#8cb0d1"/>
<rect x="259.60" y="615.70" width="14.83" height="13.02" fill="#fde5e5"/>
<rect x="274.13" y="615.70" width="14.83" height="13.02" fill="#fac1c4"/>
<rect x="288.67" y="615.70" width="14.83" height="13.02" fill="#fcd5d6"/>
<rect x="303.20" y="615.70" width="14.83" height="13.02" fill="#6b99c5"/>
<rect x="317.73" y="615.70" width="14.83" height="13.02" fill="#6b99c5"/>
<rect x="332.27" y="615.70" width="14.83" height="13.02" fill="#6b99c5"/>
<rect x="348.20" y="552.10" width="14.86" height="13.02" fill="#fcd5d6"/>
<rect x="362.76" y="552.10" width="14.86" height="13.02" fill="#fac1c4"/>
<rect x="377.32" y="552.10" width="14.86" height="13.02" fill="#ffffff"/>
<rect x="391.88" y="552.10" width="14.86" height="13.02" fill="#3d77b1"/>
<rect x="406.43" y="552.10" width="14.86" height="13.02" fill="#3d77b1"/>
<rect x="420.99" y="552.10" width="14.86" height="13.02" fill="#3d77b1"/>
<rect x="348.20" y="564.82" width="14.86" height="13.02" fill="#fcf4f5"/>
<rect x="362.76" y="564.82" width="14.86" height="13.02" fill="#fac1c4"/>
<rect x="377.32" y="564.82" width="14.86" height="13.02" fill="#fde5e5"/>
<rect x="391.88" y="564.82" width="14.86" height="13.02" fill="#3d77b1"/>
<rect x="406.43" y="564.82" width="14.86" height="13.02" fill="#4f85b9"/>
<rect x="420.99" y="564.82" width="14.86" height="13.02" fill="#3d77b1"/>
<rect x="348.20" y="577.54" width="14.86" height="13.02" fill="#fde5e5"/>
<rect x="362.76" y="577.54" width="14.86" height="13.02" fill="#f7a7ab"/>
<rect x="377.32" y="577.54" width="14.86" height="13.02" fill="#ffffff"/>
<rect x="391.88" y="577.54" width="14.86" height="13.02" fill="#a6c2db"/>
<rect x="406.43" y="577.54" width="14.86" height="13.02" fill="#8cb0d1"/>
<rect x="420.99" y="577.54" width="14.86" height="13.02" fill="#a6c2db"/>
<rect x="348.20" y="590.26" width="14.86" height="13.02" fill="#fcf4f5"/>
<rect x="362.76" y="590.26" width="14.86" height="13.02" fill="#fcd5d6"/>
<rect x="377.32" y="590.26" width="14.86" height="13.02" fill="#fcd5d6"/>
<rect x="391.88" y="590.26" width="14.86" height="13.02" fill="#4f85b9"/>
<rect x="406.43" y="590.26" width="14.86" height="13.02" fill="#4f85b9"/>
<rect x="420.99" y="590.26" width="14.86" height="13.02" fill="#4f85b9"/>
<rect x="348.20" y="602.98" width="14.86" height="13.02" fill="#fcf4f5"/>
<rect x="362.76" y="602.98" width="14.86" height="13.02" fill="#fac1c4"/>
<rect x="377.32" y="602.98" width="14.86" height="13.02" fill="#fcd5d6"/>
<rect x="391.88" y="602.98" width="14.86" height="13.02" fill="#a6c2db"/>
<rect x="406.43" y="602.98" width="14.86" height="13.02" fill="#8cb0d1"/>
<rect x="420.99" y="602.98" width="14.86" height="13.02" fill="#8cb0d1"/>
<rect x="348.20" y="615.70" width="14.86" height="13.02" fill="#fac1c4"/>
<rect x="362.76" y="615.70" width="14.86" height="13.02" fill="#fde5e5"/>
<rect x="377.32" y="615.70" width="14.86" height="13.02" fill="#fde5e5"/>
<rect x="391.88" y="615.70" width="14.86" height="13.02" fill="#8cb0d1"/>
<rect x="406.43" y="615.70" width="14.86" height="13.02" fill="#8cb0d1"/>
<rect x="420.99" y="615.70" width="14.86" height="13.02" fill="#6b99c5"/>
</g>
<rect x="80" y="292" width="450" height="3.5" fill="#fff"/>
<rect x="169.10" y="294" width="1.00" height="336" fill="#fff" fill-opacity="0.9"/>
<rect x="258.15" y="294" width="1.35" height="336" fill="#fff" fill-opacity="0.9"/>
<rect x="346.90" y="294" width="1.20" height="336" fill="#fff" fill-opacity="0.9"/>
<rect x="435.65" y="294" width="1.65" height="336" fill="#fff" fill-opacity="0.9"/>
<rect x="525.10" y="290" width="3" height="342" fill="#fff"/>
<rect x="80" y="383.20" width="450" height="1.4" fill="#fff"/>
<rect x="80" y="473.20" width="450" height="1.4" fill="#fff"/>
<rect x="80" y="550.45" width="360" height="1.4" fill="#fff"/>
<rect x="80" y="628.4" width="460" height="4" fill="#fff"/>
<text x="125.10" y="276.44" font-size="12.4" text-anchor="middle" font-weight="bold" font-style="normal" fill="#111" stroke="#111" stroke-width="0.1">98106</text>
<text x="217.10" y="276.44" font-size="12.4" text-anchor="middle" font-weight="bold" font-style="normal" fill="#111" stroke="#111" stroke-width="0.1">00065</text>
<text x="300.80" y="276.44" font-size="12.4" text-anchor="middle" font-weight="bold" font-style="normal" fill="#111" stroke="#111" stroke-width="0.1">00085</text>
<text x="390.60" y="276.44" font-size="12.4" text-anchor="middle" font-weight="bold" font-style="normal" fill="#111" stroke="#111" stroke-width="0.1">00102</text>
<text x="475.70" y="276.44" font-size="12.4" text-anchor="middle" font-weight="bold" font-style="normal" fill="#111" stroke="#111" stroke-width="0.1">01102</text>
<text x="92.00" y="292.87" font-size="9.7" text-anchor="start" font-weight="bold" font-style="normal" fill="#111" stroke="#111" stroke-width="0.35">Before</text>
<text x="178.90" y="292.87" font-size="9.7" text-anchor="start" font-weight="bold" font-style="normal" fill="#111" stroke="#111" stroke-width="0.35">Before</text>
<text x="267.60" y="292.87" font-size="9.7" text-anchor="start" font-weight="bold" font-style="normal" fill="#111" stroke="#111" stroke-width="0.35">Before</text>
<text x="354.20" y="292.87" font-size="9.7" text-anchor="start" font-weight="bold" font-style="normal" fill="#111" stroke="#111" stroke-width="0.35">Before</text>
<text x="444.10" y="292.87" font-size="9.7" text-anchor="start" font-weight="bold" font-style="normal" fill="#111" stroke="#111" stroke-width="0.35">Before</text>
<text x="134.90" y="292.87" font-size="9.7" text-anchor="start" font-weight="bold" font-style="normal" fill="#111" stroke="#111" stroke-width="0.35">After</text>
<text x="221.30" y="292.87" font-size="9.7" text-anchor="start" font-weight="bold" font-style="normal" fill="#111" stroke="#111" stroke-width="0.35">After</text>
<text x="310.30" y="292.87" font-size="9.7" text-anchor="start" font-weight="bold" font-style="normal" fill="#111" stroke="#111" stroke-width="0.35">After</text>
<text x="396.60" y="292.87" font-size="9.7" text-anchor="start" font-weight="bold" font-style="normal" fill="#111" stroke="#111" stroke-width="0.35">After</text>
<text x="486.40" y="292.87" font-size="9.7" text-anchor="start" font-weight="bold" font-style="normal" fill="#111" stroke="#111" stroke-width="0.35">After</text>
<text x="81.9" y="304.34" font-size="9.6" text-anchor="end" font-weight="bold" font-style="italic" fill="#111" stroke="#111" stroke-width="0.35">P16<tspan font-size="6.5" dy="-2.7">INK4a</tspan></text>
<text x="81.90" y="316.74" font-size="9.6" text-anchor="end" font-weight="bold" font-style="italic" fill="#111" stroke="#111" stroke-width="0.35">P14</text>
<text x="81.90" y="330.04" font-size="9.6" text-anchor="end" font-weight="bold" font-style="italic" fill="#111" stroke="#111" stroke-width="0.35">P21</text>
<text x="81.90" y="343.44" font-size="9.6" text-anchor="end" font-weight="bold" font-style="italic" fill="#111" stroke="#111" stroke-width="0.35">IGFBP2</text>
<text x="81.90" y="355.74" font-size="9.6" text-anchor="end" font-weight="bold" font-style="italic" fill="#111" stroke="#111" stroke-width="0.35">IL6</text>
<text x="81.90" y="367.94" font-size="9.6" text-anchor="end" font-weight="bold" font-style="italic" fill="#111" stroke="#111" stroke-width="0.35">MMP3</text>
<text x="81.90" y="380.64" font-size="9.6" text-anchor="end" font-weight="bold" font-style="italic" fill="#111" stroke="#111" stroke-width="0.35">CXCL1</text>
<text x="81.9" y="393.34" font-size="9.6" text-anchor="end" font-weight="bold" font-style="italic" fill="#111" stroke="#111" stroke-width="0.35">P16<tspan font-size="6.5" dy="-2.7">INK4a</tspan></text>
<text x="81.90" y="406.04" font-size="9.6" text-anchor="end" font-weight="bold" font-style="italic" fill="#111" stroke="#111" stroke-width="0.35">P14</text>
<text x="81.90" y="418.94" font-size="9.6" text-anchor="end" font-weight="bold" font-style="italic" fill="#111" stroke="#111" stroke-width="0.35">P21</text>
<text x="81.90" y="432.04" font-size="9.6" text-anchor="end" font-weight="bold" font-style="italic" fill="#111" stroke="#111" stroke-width="0.35">IGFBP2</text>
<text x="81.90" y="444.44" font-size="9.6" text-anchor="end" font-weight="bold" font-style="italic" fill="#111" stroke="#111" stroke-width="0.35">IL6</text>
<text x="81.90" y="456.34" font-size="9.6" text-anchor="end" font-weight="bold" font-style="italic" fill="#111" stroke="#111" stroke-width="0.35">MMP3</text>
<text x="81.90" y="469.54" font-size="9.6" text-anchor="end" font-weight="bold" font-style="italic" fill="#111" stroke="#111" stroke-width="0.35">CXCL1</text>
<text x="81.9" y="484.34" font-size="9.6" text-anchor="end" font-weight="bold" font-style="italic" fill="#111" stroke="#111" stroke-width="0.35">P16<tspan font-size="6.5" dy="-2.7">INK4a</tspan></text>
<text x="81.90" y="496.74" font-size="9.6" text-anchor="end" font-weight="bold" font-style="italic" fill="#111" stroke="#111" stroke-width="0.35">P14</text>
<text x="81.90" y="510.04" font-size="9.6" text-anchor="end" font-weight="bold" font-style="italic" fill="#111" stroke="#111" stroke-width="0.35">P21</text>
<text x="81.90" y="523.44" font-size="9.6" text-anchor="end" font-weight="bold" font-style="italic" fill="#111" stroke="#111" stroke-width="0.35">IGFBP2</text>
<text x="81.90" y="535.74" font-size="9.6" text-anchor="end" font-weight="bold" font-style="italic" fill="#111" stroke="#111" stroke-width="0.35">IL6</text>
<text x="81.90" y="549.74" font-size="9.6" text-anchor="end" font-weight="bold" font-style="italic" fill="#111" stroke="#111" stroke-width="0.35">CXCL1</text>
<text x="81.9" y="563.24" font-size="9.6" text-anchor="end" font-weight="bold" font-style="italic" fill="#111" stroke="#111" stroke-width="0.35">P16<tspan font-size="6.5" dy="-2.7">INK4a</tspan></text>
<text x="81.90" y="575.24" font-size="9.6" text-anchor="end" font-weight="bold" font-style="italic" fill="#111" stroke="#111" stroke-width="0.35">P14</text>
<text x="81.90" y="588.54" font-size="9.6" text-anchor="end" font-weight="bold" font-style="italic" fill="#111" stroke="#111" stroke-width="0.35">P21</text>
<text x="81.90" y="601.74" font-size="9.6" text-anchor="end" font-weight="bold" font-style="italic" fill="#111" stroke="#111" stroke-width="0.35">IGFBP2</text>
<text x="81.90" y="613.94" font-size="9.6" text-anchor="end" font-weight="bold" font-style="italic" fill="#111" stroke="#111" stroke-width="0.35">IL6</text>
<text x="81.90" y="628.44" font-size="9.6" text-anchor="end" font-weight="bold" font-style="italic" fill="#111" stroke="#111" stroke-width="0.35">CXCL1</text>
<text x="34.95" y="345.08" font-size="12.5" text-anchor="middle" font-weight="bold" font-style="normal" fill="#000" stroke="#000" stroke-width="0.35" transform="rotate(-90 34.95 340.60)">SAT</text>
<text x="34.95" y="436.88" font-size="12.5" text-anchor="middle" font-weight="bold" font-style="normal" fill="#000" stroke="#000" stroke-width="0.35" transform="rotate(-90 34.95 432.40)">SkM</text>
<text x="34.95" y="519.08" font-size="12.5" text-anchor="middle" font-weight="bold" font-style="normal" fill="#000" stroke="#000" stroke-width="0.35" transform="rotate(-90 34.95 514.60)">Liver</text>
<text x="34.95" y="600.18" font-size="12.5" text-anchor="middle" font-weight="bold" font-style="normal" fill="#000" stroke="#000" stroke-width="0.35" transform="rotate(-90 34.95 595.70)">Kidney</text>
<rect x="445.9" y="584" width="86.5" height="13.2" fill="url(#cbar)"/>
<text x="446.60" y="606.71" font-size="7.0" text-anchor="start" font-weight="bold" font-style="normal" fill="#111" stroke="#111" stroke-width="0.2">Zero</text>
<text x="489.20" y="606.71" font-size="7.0" text-anchor="middle" font-weight="bold" font-style="normal" fill="#111" stroke="#111" stroke-width="0.2">Median</text>
<text x="532.30" y="606.71" font-size="7.0" text-anchor="end" font-weight="bold" font-style="normal" fill="#111" stroke="#111" stroke-width="0.2">Two</text>
<text x="616.50" y="230.07" font-size="12.2" text-anchor="start" font-weight="bold" font-style="normal" fill="#111" stroke="#111" stroke-width="0.35">Before</text>
<text x="669.90" y="230.07" font-size="12.2" text-anchor="start" font-weight="bold" font-style="normal" fill="#111" stroke="#111" stroke-width="0.35">After</text>
<text x="579.60" y="262.40" font-size="12.3" text-anchor="start" font-weight="bold" font-style="normal" fill="#111" stroke="#111" stroke-width="0.35">98106</text>
<text x="579.60" y="305.70" font-size="12.3" text-anchor="start" font-weight="bold" font-style="normal" fill="#111" stroke="#111" stroke-width="0.35">00065</text>
<text x="579.60" y="351.20" font-size="12.3" text-anchor="start" font-weight="bold" font-style="normal" fill="#111" stroke="#111" stroke-width="0.35">00085</text>
<text x="580.20" y="396.00" font-size="12.3" text-anchor="start" font-weight="bold" font-style="normal" fill="#111" stroke="#111" stroke-width="0.35">00102</text>
<text x="581.10" y="439.60" font-size="12.3" text-anchor="start" font-weight="bold" font-style="normal" fill="#111" stroke="#111" stroke-width="0.35">01102</text>
<rect x="621" y="239.1" width="78.4" height="209.1" fill="url(#photobg)"/>
<path d="M635.7 249.1 Q637.0 246.1 640.4 246.5 Q643.7 246.8 646.0 248.4 Q648.3 249.9 648.7 252.9 Q649.0 255.9 647.9 258.5 Q646.8 261.2 644.2 263.5 Q641.5 265.7 638.1 265.3 Q634.7 264.9 634.0 262.7 Q633.3 260.5 633.8 256.3 Q634.4 252.1 635.7 249.1Z" fill="#6a5a54" opacity="0.85" filter="url(#soft2)"/>
<g filter="url(#soft)">
<path d="M629.4 249.5 Q630.9 246.1 634.6 246.5 Q638.4 246.9 640.9 248.6 Q643.4 250.3 643.8 253.7 Q644.2 257.0 643.0 259.9 Q641.7 262.9 638.8 265.4 Q635.9 268.0 632.1 267.5 Q628.3 267.1 627.5 264.6 Q626.7 262.1 627.3 257.4 Q628.0 252.8 629.4 249.5Z" fill="#91be9a"/>
</g>
<g filter="url(#soft2)">
<path d="M633.8 253.7 Q634.6 251.7 636.9 251.9 Q639.1 252.2 640.6 253.2 Q642.2 254.2 642.4 256.2 Q642.6 258.2 641.9 260.0 Q641.2 261.7 639.4 263.3 Q637.6 264.8 635.4 264.5 Q633.1 264.2 632.6 262.7 Q632.1 261.3 632.5 258.5 Q632.9 255.7 633.8 253.7Z" fill="#7dad89" opacity="0.75"/>
<path d="M631.0 252.3 Q631.6 250.9 633.2 251.0 Q634.8 251.2 635.8 251.9 Q636.9 252.6 637.1 254.0 Q637.2 255.4 636.7 256.6 Q636.2 257.9 635.0 258.9 Q633.7 260.0 632.1 259.8 Q630.5 259.6 630.2 258.6 Q629.9 257.5 630.1 255.6 Q630.4 253.7 631.0 252.3Z" fill="#b0d0b5" opacity="0.8"/>
</g>
<path d="M677.6 253.0 Q678.5 250.7 681.6 249.6 Q684.6 248.4 688.0 249.1 Q691.3 249.9 692.9 252.2 Q694.4 254.5 694.0 257.5 Q693.6 260.5 691.3 262.7 Q689.1 265.0 685.7 264.3 Q682.3 263.5 680.1 262.0 Q677.8 260.5 677.3 257.8 Q676.7 255.2 677.6 253.0Z" fill="#75625b" opacity="0.85" filter="url(#soft2)"/>
<g filter="url(#soft)">
<path d="M672.4 252.2 Q673.4 249.7 676.8 248.4 Q680.2 247.1 683.9 247.9 Q687.7 248.8 689.4 251.3 Q691.1 253.8 690.6 257.2 Q690.1 260.5 687.7 263.0 Q685.2 265.5 681.4 264.7 Q677.6 263.9 675.1 262.2 Q672.6 260.5 672.0 257.6 Q671.4 254.6 672.4 252.2Z" fill="#9bbc9f"/>
</g>
<g filter="url(#soft2)">
<path d="M677.9 254.9 Q678.5 253.4 680.5 252.6 Q682.5 251.9 684.8 252.4 Q687.0 252.9 688.0 254.4 Q689.0 255.9 688.8 257.9 Q688.5 259.9 687.0 261.4 Q685.5 262.9 683.2 262.4 Q681.0 262.0 679.5 260.9 Q678.0 259.9 677.6 258.2 Q677.2 256.4 677.9 254.9Z" fill="#88ac8d" opacity="0.75"/>
<path d="M675.6 252.8 Q676.0 251.8 677.5 251.2 Q678.9 250.7 680.5 251.0 Q682.0 251.4 682.7 252.5 Q683.4 253.5 683.3 254.9 Q683.1 256.3 682.0 257.4 Q681.0 258.4 679.4 258.1 Q677.8 257.7 676.7 257.0 Q675.7 256.3 675.4 255.1 Q675.2 253.9 675.6 252.8Z" fill="#b2cab2" opacity="0.8"/>
</g>
<path d="M634.6 295.3 Q635.7 293.8 638.8 292.9 Q641.8 291.9 644.5 292.3 Q647.1 292.6 648.6 294.3 Q650.1 296.1 649.7 299.1 Q649.4 302.1 647.5 304.2 Q645.6 306.2 642.2 306.6 Q638.8 306.9 636.1 306.0 Q633.5 305.1 632.6 302.8 Q631.7 300.5 632.6 298.7 Q633.5 296.8 634.6 295.3Z" fill="#5b5856" opacity="0.85" filter="url(#soft2)"/>
<g filter="url(#soft)">
<path d="M627.2 296.6 Q628.5 294.9 631.9 293.8 Q635.2 292.8 638.2 293.2 Q641.1 293.6 642.8 295.5 Q644.4 297.4 644.0 300.7 Q643.6 304.1 641.5 306.4 Q639.4 308.7 635.6 309.1 Q631.9 309.5 628.9 308.5 Q626.0 307.5 625.0 304.9 Q623.9 302.4 625.0 300.3 Q626.0 298.2 627.2 296.6Z" fill="#74ab7a"/>
</g>
<g filter="url(#soft2)">
<path d="M631.9 299.5 Q632.7 298.5 634.7 297.9 Q636.7 297.2 638.5 297.5 Q640.3 297.7 641.3 298.8 Q642.2 300.0 642.0 302.0 Q641.8 304.0 640.5 305.4 Q639.3 306.8 637.0 307.0 Q634.7 307.2 632.9 306.6 Q631.2 306.0 630.6 304.5 Q630.0 303.0 630.6 301.7 Q631.2 300.5 631.9 299.5Z" fill="#629669" opacity="0.75"/>
<path d="M629.4 297.5 Q629.9 296.8 631.3 296.3 Q632.7 295.9 634.0 296.0 Q635.2 296.2 635.9 297.0 Q636.6 297.8 636.4 299.2 Q636.2 300.6 635.4 301.6 Q634.5 302.6 632.9 302.7 Q631.3 302.9 630.1 302.5 Q628.8 302.0 628.4 301.0 Q628.0 299.9 628.4 299.0 Q628.8 298.2 629.4 297.5Z" fill="#90c094" opacity="0.8"/>
</g>
<path d="M679.5 291.9 Q681.4 289.7 684.4 289.3 Q687.4 288.9 690.1 290.0 Q692.7 291.1 693.7 293.4 Q694.7 295.7 693.3 298.3 Q692.0 301.0 689.4 302.9 Q686.7 304.7 683.7 304.5 Q680.7 304.3 679.0 302.2 Q677.3 300.2 677.5 297.2 Q677.7 294.2 679.5 291.9Z" fill="#86676a" opacity="0.85" filter="url(#soft2)"/>
<g filter="url(#soft)">
<path d="M673.2 293.5 Q675.3 291.0 678.6 290.6 Q681.9 290.1 684.9 291.4 Q687.8 292.6 688.9 295.1 Q690.0 297.7 688.5 300.6 Q687.0 303.6 684.1 305.6 Q681.1 307.7 677.8 307.5 Q674.5 307.3 672.6 305.0 Q670.6 302.7 670.9 299.3 Q671.1 296.0 673.2 293.5Z" fill="#d2c78d"/>
</g>
<g filter="url(#soft2)">
<path d="M677.9 296.8 Q679.1 295.3 681.1 295.0 Q683.1 294.8 684.9 295.5 Q686.7 296.2 687.3 297.8 Q687.9 299.3 687.1 301.1 Q686.2 302.8 684.4 304.1 Q682.7 305.3 680.7 305.2 Q678.7 305.1 677.5 303.7 Q676.3 302.3 676.5 300.3 Q676.6 298.3 677.9 296.8Z" fill="#c4b677" opacity="0.75"/>
<path d="M675.3 294.9 Q676.2 293.9 677.6 293.7 Q679.0 293.5 680.2 294.0 Q681.4 294.6 681.9 295.6 Q682.3 296.7 681.7 297.9 Q681.1 299.2 679.9 300.0 Q678.6 300.9 677.2 300.8 Q675.8 300.7 675.0 299.8 Q674.2 298.8 674.3 297.4 Q674.4 296.0 675.3 294.9Z" fill="#e0d8ae" opacity="0.8"/>
</g>
<path d="M638.7 336.4 Q641.0 334.8 643.6 334.3 Q646.3 333.7 648.2 335.6 Q650.0 337.5 650.4 339.9 Q650.8 342.4 648.9 344.6 Q647.0 346.9 644.0 348.2 Q641.0 349.6 638.0 349.2 Q635.0 348.8 633.3 346.7 Q631.5 344.7 632.1 342.8 Q632.7 340.9 634.5 339.4 Q636.4 337.9 638.7 336.4Z" fill="#54565a" opacity="0.85" filter="url(#soft2)"/>
<g filter="url(#soft)">
<path d="M631.0 339.1 Q633.6 337.4 636.5 336.8 Q639.5 336.2 641.5 338.3 Q643.6 340.4 644.0 343.1 Q644.4 345.8 642.3 348.3 Q640.2 350.9 636.9 352.3 Q633.6 353.8 630.2 353.4 Q626.9 352.9 625.0 350.6 Q623.1 348.4 623.7 346.3 Q624.3 344.2 626.4 342.5 Q628.5 340.8 631.0 339.1Z" fill="#7ec1a5"/>
</g>
<g filter="url(#soft2)">
<path d="M634.1 342.7 Q635.7 341.7 637.4 341.3 Q639.2 340.9 640.4 342.2 Q641.7 343.4 641.9 345.1 Q642.2 346.7 640.9 348.2 Q639.7 349.7 637.7 350.6 Q635.7 351.5 633.7 351.2 Q631.7 351.0 630.5 349.6 Q629.3 348.3 629.7 347.0 Q630.1 345.7 631.3 344.7 Q632.6 343.7 634.1 342.7Z" fill="#6ab293" opacity="0.75"/>
<path d="M630.8 341.0 Q631.9 340.3 633.1 340.0 Q634.4 339.7 635.2 340.6 Q636.1 341.5 636.3 342.6 Q636.4 343.8 635.6 344.8 Q634.7 345.9 633.3 346.5 Q631.9 347.1 630.5 346.9 Q629.1 346.8 628.3 345.8 Q627.5 344.9 627.7 344.0 Q628.0 343.1 628.9 342.4 Q629.8 341.7 630.8 341.0Z" fill="#98d2ba" opacity="0.8"/>
</g>
<path d="M673.0 334.8 Q674.6 333.3 677.6 333.1 Q680.6 332.9 684.3 333.9 Q688.1 334.8 691.5 336.7 Q694.9 338.6 696.2 340.8 Q697.5 343.1 696.6 345.3 Q695.6 347.5 692.6 348.7 Q689.6 349.9 685.9 349.5 Q682.1 349.1 679.1 347.2 Q676.1 345.3 674.0 342.7 Q671.9 340.0 671.7 338.1 Q671.5 336.3 673.0 334.8Z" fill="#7a6350" opacity="0.85" filter="url(#soft2)"/>
<g filter="url(#soft)">
<path d="M668.5 336.1 Q670.2 334.4 673.5 334.2 Q676.9 334.0 681.1 335.0 Q685.2 336.1 689.0 338.2 Q692.8 340.3 694.3 342.8 Q695.7 345.3 694.7 347.8 Q693.6 350.2 690.3 351.5 Q686.9 352.8 682.8 352.4 Q678.6 351.9 675.2 349.8 Q671.9 347.8 669.6 344.8 Q667.3 341.9 667.0 339.8 Q666.8 337.7 668.5 336.1Z" fill="#a4b87a"/>
</g>
<g filter="url(#soft2)">
<path d="M675.3 340.0 Q676.3 339.0 678.3 338.9 Q680.3 338.8 682.9 339.4 Q685.4 340.0 687.6 341.3 Q689.9 342.6 690.8 344.0 Q691.7 345.5 691.0 347.0 Q690.4 348.5 688.4 349.3 Q686.4 350.1 683.9 349.8 Q681.4 349.5 679.4 348.3 Q677.4 347.0 676.0 345.3 Q674.6 343.5 674.4 342.3 Q674.3 341.0 675.3 340.0Z" fill="#8fa46d" opacity="0.75"/>
<path d="M673.7 338.5 Q674.4 337.8 675.8 337.7 Q677.2 337.6 679.0 338.0 Q680.7 338.5 682.3 339.4 Q683.9 340.2 684.5 341.3 Q685.1 342.3 684.7 343.4 Q684.2 344.4 682.8 345.0 Q681.4 345.5 679.7 345.3 Q677.9 345.1 676.5 344.2 Q675.1 343.4 674.1 342.1 Q673.2 340.9 673.1 340.0 Q673.0 339.1 673.7 338.5Z" fill="#bec88e" opacity="0.8"/>
</g>
<path d="M634.9 381.9 Q636.5 380.1 640.2 378.9 Q644.0 377.8 647.4 378.2 Q650.7 378.6 651.5 380.9 Q652.2 383.1 651.1 386.1 Q650.0 389.1 647.4 391.8 Q644.7 394.4 641.7 396.3 Q638.7 398.2 636.4 397.4 Q634.1 396.6 633.4 393.6 Q632.6 390.6 633.0 387.2 Q633.4 383.8 634.9 381.9Z" fill="#57534e" opacity="0.85" filter="url(#soft2)"/>
<g filter="url(#soft)">
<path d="M630.5 382.5 Q632.2 380.4 636.4 379.1 Q640.6 377.9 644.3 378.3 Q648.1 378.8 648.9 381.3 Q649.7 383.8 648.5 387.1 Q647.3 390.4 644.3 393.4 Q641.4 396.3 638.1 398.4 Q634.7 400.5 632.2 399.6 Q629.6 398.8 628.8 395.5 Q627.9 392.1 628.4 388.3 Q628.8 384.6 630.5 382.5Z" fill="#87b98d"/>
</g>
<g filter="url(#soft2)">
<path d="M635.5 386.0 Q636.6 384.8 639.1 384.0 Q641.6 383.3 643.8 383.6 Q646.0 383.8 646.6 385.3 Q647.1 386.8 646.3 388.8 Q645.6 390.8 643.8 392.6 Q642.0 394.3 640.0 395.6 Q638.0 396.8 636.5 396.3 Q635.0 395.8 634.5 393.8 Q634.0 391.8 634.2 389.6 Q634.5 387.3 635.5 386.0Z" fill="#74a57b" opacity="0.75"/>
<path d="M633.1 384.3 Q633.8 383.4 635.6 382.9 Q637.3 382.4 638.9 382.6 Q640.4 382.7 640.8 383.8 Q641.2 384.8 640.6 386.2 Q640.1 387.6 638.9 388.9 Q637.6 390.1 636.2 391.0 Q634.8 391.9 633.8 391.5 Q632.7 391.1 632.4 389.7 Q632.0 388.3 632.2 386.8 Q632.4 385.2 633.1 384.3Z" fill="#a5ccab" opacity="0.8"/>
</g>
<path d="M674.4 382.1 Q675.9 379.9 679.7 378.8 Q683.4 377.7 687.2 376.9 Q691.0 376.1 692.9 377.6 Q694.7 379.1 694.3 381.7 Q693.9 384.4 691.7 387.4 Q689.4 390.4 686.4 392.7 Q683.4 395.0 680.4 395.0 Q677.3 395.0 675.5 392.7 Q673.6 390.4 673.2 387.4 Q672.9 384.4 674.4 382.1Z" fill="#65554c" opacity="0.85" filter="url(#soft2)"/>
<g filter="url(#soft)">
<path d="M670.2 383.9 Q671.9 381.4 676.1 380.2 Q680.3 378.9 684.5 378.1 Q688.6 377.2 690.7 378.9 Q692.8 380.5 692.4 383.5 Q691.9 386.4 689.4 389.7 Q687.0 393.1 683.6 395.6 Q680.3 398.1 676.9 398.1 Q673.5 398.1 671.4 395.6 Q669.3 393.1 668.9 389.7 Q668.5 386.4 670.2 383.9Z" fill="#b0b287"/>
</g>
<g filter="url(#soft2)">
<path d="M676.3 386.5 Q677.3 385.0 679.8 384.2 Q682.3 383.5 684.8 383.0 Q687.4 382.5 688.6 383.5 Q689.9 384.4 689.6 386.2 Q689.3 388.0 687.8 390.0 Q686.3 392.0 684.3 393.5 Q682.3 395.0 680.3 395.0 Q678.3 395.0 677.0 393.5 Q675.8 392.0 675.5 390.0 Q675.3 388.0 676.3 386.5Z" fill="#9b9e74" opacity="0.75"/>
<path d="M674.3 384.3 Q675.1 383.2 676.8 382.7 Q678.6 382.2 680.3 381.8 Q682.1 381.5 683.0 382.2 Q683.8 382.9 683.6 384.1 Q683.5 385.3 682.4 386.7 Q681.4 388.1 680.0 389.2 Q678.6 390.3 677.1 390.3 Q675.7 390.3 674.8 389.2 Q674.0 388.1 673.8 386.7 Q673.6 385.3 674.3 384.3Z" fill="#c4c5a2" opacity="0.8"/>
</g>
<path d="M633.0 424.1 Q634.2 422.7 637.2 421.9 Q640.3 421.1 643.3 421.9 Q646.3 422.7 648.9 423.8 Q651.6 424.9 650.4 427.9 Q649.2 430.9 647.3 433.5 Q645.5 436.2 643.2 438.4 Q641.0 440.7 638.3 441.4 Q635.7 442.2 634.2 439.5 Q632.6 436.9 631.9 433.5 Q631.2 430.2 631.6 427.9 Q631.9 425.6 633.0 424.1Z" fill="#55534f" opacity="0.85" filter="url(#soft2)"/>
<g filter="url(#soft)">
<path d="M628.6 424.6 Q629.9 422.9 633.3 422.1 Q636.6 421.2 640.0 422.1 Q643.3 422.9 646.2 424.2 Q649.2 425.4 647.9 428.7 Q646.6 432.1 644.5 435.0 Q642.4 437.9 639.9 440.4 Q637.4 442.9 634.5 443.8 Q631.6 444.6 629.9 441.7 Q628.2 438.7 627.4 435.0 Q626.6 431.3 627.0 428.7 Q627.4 426.2 628.6 424.6Z" fill="#85b998"/>
</g>
<g filter="url(#soft2)">
<path d="M633.7 428.5 Q634.4 427.5 636.5 427.0 Q638.5 426.5 640.5 427.0 Q642.5 427.5 644.3 428.3 Q646.0 429.0 645.2 431.0 Q644.5 433.0 643.2 434.8 Q642.0 436.6 640.5 438.0 Q639.0 439.5 637.2 440.0 Q635.4 440.6 634.4 438.8 Q633.4 437.0 632.9 434.8 Q632.5 432.6 632.7 431.0 Q632.9 429.5 633.7 428.5Z" fill="#65997a" opacity="0.75"/>
<path d="M631.3 427.0 Q631.8 426.3 633.2 425.9 Q634.6 425.6 636.0 425.9 Q637.4 426.3 638.7 426.8 Q639.9 427.3 639.4 428.7 Q638.8 430.1 637.9 431.4 Q637.1 432.6 636.0 433.6 Q635.0 434.7 633.7 435.0 Q632.5 435.4 631.8 434.2 Q631.1 432.9 630.7 431.4 Q630.4 429.8 630.6 428.7 Q630.7 427.7 631.3 427.0Z" fill="#a4cdb3" opacity="0.8"/>
</g>
<path d="M677.5 425.3 Q679.7 423.4 682.7 421.8 Q685.7 420.3 688.8 420.7 Q691.8 421.1 693.2 423.4 Q694.5 425.6 693.5 429.0 Q692.5 432.4 690.3 435.1 Q688.1 437.7 685.4 438.8 Q682.8 439.9 679.8 438.8 Q676.8 437.7 675.5 435.4 Q674.1 433.1 674.7 430.1 Q675.3 427.1 677.5 425.3Z" fill="#5f5650" opacity="0.85" filter="url(#soft2)"/>
<g filter="url(#soft)">
<path d="M672.8 425.9 Q675.2 423.8 678.6 422.1 Q681.9 420.4 685.3 420.8 Q688.7 421.3 690.2 423.8 Q691.6 426.3 690.5 430.0 Q689.5 433.8 687.0 436.8 Q684.5 439.7 681.6 440.9 Q678.6 442.2 675.3 440.9 Q672.0 439.7 670.5 437.2 Q669.0 434.6 669.6 431.3 Q670.3 428.0 672.8 425.9Z" fill="#a1b487"/>
</g>
<g filter="url(#soft2)">
<path d="M677.7 429.1 Q679.2 427.9 681.2 426.8 Q683.2 425.8 685.2 426.1 Q687.3 426.4 688.1 427.9 Q689.0 429.3 688.4 431.6 Q687.7 433.9 686.2 435.6 Q684.8 437.4 683.0 438.2 Q681.2 438.9 679.2 438.2 Q677.2 437.4 676.3 435.9 Q675.5 434.4 675.8 432.4 Q676.2 430.4 677.7 429.1Z" fill="#8ca073" opacity="0.75"/>
<path d="M675.2 427.2 Q676.3 426.3 677.7 425.6 Q679.1 424.9 680.5 425.1 Q681.9 425.3 682.5 426.3 Q683.2 427.4 682.7 429.0 Q682.3 430.6 681.2 431.8 Q680.2 433.0 678.9 433.6 Q677.7 434.1 676.3 433.6 Q674.9 433.0 674.3 432.0 Q673.7 430.9 673.9 429.5 Q674.2 428.1 675.2 427.2Z" fill="#c5caa5" opacity="0.8"/>
</g>
<path d="M632.0 467.90 V570.4 H707.2" fill="none" stroke="#1c1c1c" stroke-width="1.7"/>
<line x1="626.5" y1="570.40" x2="632.0" y2="570.40" stroke="#1c1c1c" stroke-width="1.4"/>
<text x="624.80" y="573.84" font-size="9.6" text-anchor="end" font-weight="bold" font-style="normal" fill="#111" stroke="#111" stroke-width="0.35">0</text>
<line x1="626.5" y1="550.00" x2="632.0" y2="550.00" stroke="#1c1c1c" stroke-width="1.4"/>
<text x="624.80" y="553.44" font-size="9.6" text-anchor="end" font-weight="bold" font-style="normal" fill="#111" stroke="#111" stroke-width="0.35">5</text>
<line x1="626.5" y1="529.60" x2="632.0" y2="529.60" stroke="#1c1c1c" stroke-width="1.4"/>
<text x="624.80" y="533.04" font-size="9.6" text-anchor="end" font-weight="bold" font-style="normal" fill="#111" stroke="#111" stroke-width="0.35">10</text>
<line x1="626.5" y1="509.20" x2="632.0" y2="509.20" stroke="#1c1c1c" stroke-width="1.4"/>
<text x="624.80" y="512.64" font-size="9.6" text-anchor="end" font-weight="bold" font-style="normal" fill="#111" stroke="#111" stroke-width="0.35">15</text>
<line x1="626.5" y1="488.80" x2="632.0" y2="488.80" stroke="#1c1c1c" stroke-width="1.4"/>
<text x="624.80" y="492.24" font-size="9.6" text-anchor="end" font-weight="bold" font-style="normal" fill="#111" stroke="#111" stroke-width="0.35">20</text>
<line x1="626.5" y1="468.40" x2="632.0" y2="468.40" stroke="#1c1c1c" stroke-width="1.4"/>
<text x="624.80" y="471.84" font-size="9.6" text-anchor="end" font-weight="bold" font-style="normal" fill="#111" stroke="#111" stroke-width="0.35">25</text>
<line x1="653.1" y1="570.4" x2="653.1" y2="575.9" stroke="#1c1c1c" stroke-width="1.4"/>
<line x1="684.7" y1="570.4" x2="684.7" y2="575.9" stroke="#1c1c1c" stroke-width="1.4"/>
<line x1="653.1" y1="479.82" x2="684.7" y2="521.44" stroke="#222" stroke-width="0.8"/>
<line x1="653.1" y1="484.72" x2="684.7" y2="529.60" stroke="#222" stroke-width="0.8"/>
<line x1="653.1" y1="492.06" x2="684.7" y2="502.26" stroke="#222" stroke-width="0.8"/>
<line x1="653.1" y1="493.70" x2="684.7" y2="570.40" stroke="#222" stroke-width="0.8"/>
<line x1="653.1" y1="497.37" x2="684.7" y2="532.05" stroke="#222" stroke-width="0.8"/>
<circle cx="653.1" cy="479.82" r="2.2" fill="#000"/>
<circle cx="684.7" cy="521.44" r="2.2" fill="#000"/>
<circle cx="653.1" cy="484.72" r="2.2" fill="#000"/>
<circle cx="684.7" cy="529.60" r="2.2" fill="#000"/>
<circle cx="653.1" cy="492.06" r="2.2" fill="#000"/>
<circle cx="684.7" cy="502.26" r="2.2" fill="#000"/>
<circle cx="653.1" cy="493.70" r="2.2" fill="#000"/>
<circle cx="684.7" cy="570.40" r="2.2" fill="#000"/>
<circle cx="653.1" cy="497.37" r="2.2" fill="#000"/>
<circle cx="684.7" cy="532.05" r="2.2" fill="#000"/>
<line x1="653" y1="464.6" x2="685.4" y2="464.6" stroke="#1c1c1c" stroke-width="1.4"/>
<text x="669.30" y="462.98" font-size="12.5" text-anchor="middle" font-weight="bold" font-style="normal" fill="#111" stroke="#111" stroke-width="0.35">*</text>
<text x="581.90" y="524.25" font-size="12.7" text-anchor="middle" font-weight="bold" font-style="normal" fill="#111" stroke="#111" stroke-width="0.35" transform="rotate(-90 581.90 519.70)">Staining</text>
<text x="600.40" y="526.65" font-size="13.0" text-anchor="middle" font-weight="bold" font-style="normal" fill="#111" stroke="#111" stroke-width="0.35" transform="rotate(-90 600.40 522.00)" letter-spacing="0.4">intensity (×10<tspan font-size="6.5" dy="-4">5</tspan><tspan dy="4">)</tspan></text>
<text x="657.5" y="585.5" font-size="12.4" font-weight="bold" fill="#111" stroke="#111" stroke-width="0.35" text-anchor="end" transform="rotate(-45 657.5 585.5)">Mock-CAR</text>
<text x="689.0" y="585.5" font-size="12.4" font-weight="bold" fill="#111" stroke="#111" stroke-width="0.35" text-anchor="end" transform="rotate(-45 689.0 585.5)">NKG2D-CAR</text>
</svg></body></html>
